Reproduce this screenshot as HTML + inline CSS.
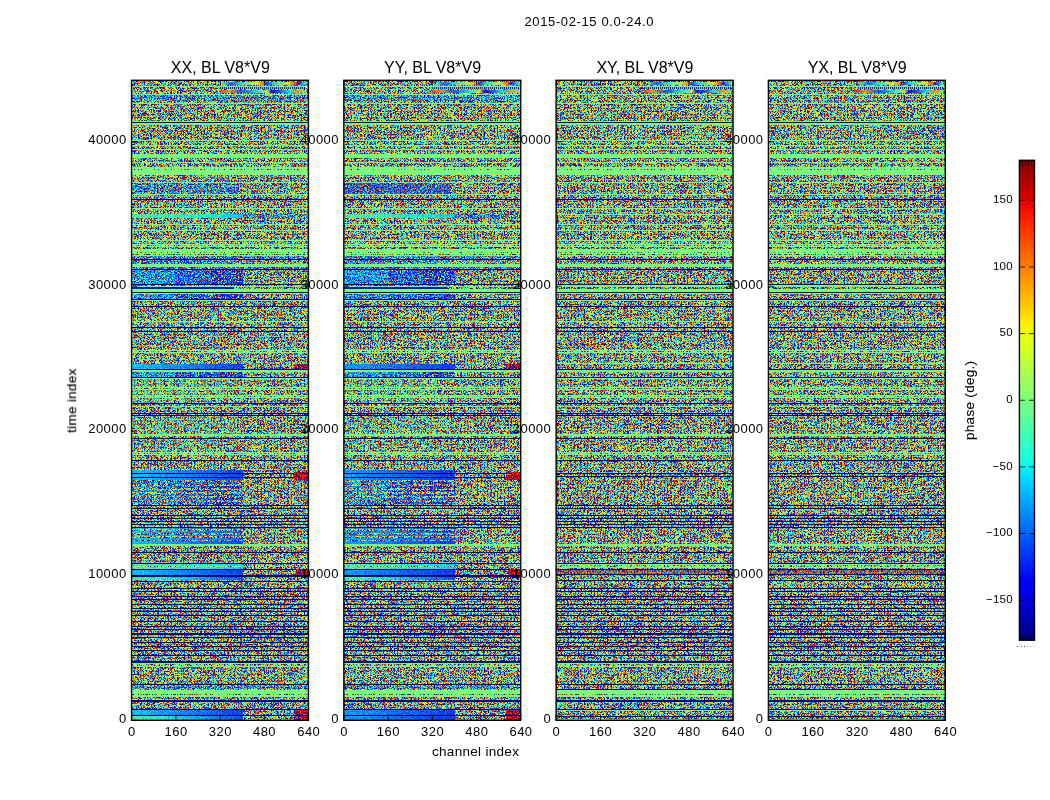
<!DOCTYPE html><html><head><meta charset="utf-8"><title>phase</title><style>html,body{margin:0;padding:0;background:#fff;}body{width:1050px;height:800px;overflow:hidden;position:relative;font-family:"Liberation Sans",sans-serif;}svg{position:absolute;left:0;top:0;}text{font-family:"Liberation Sans",sans-serif;fill:#000;}.tk{font-size:13px;letter-spacing:0.45px;}.tt{font-size:16px;}.al{font-size:13.5px;letter-spacing:0.3px;}.ck{font-size:11.5px;letter-spacing:0.3px;}</style></head><body>
<svg width="1050" height="800" viewBox="0 0 1050 800">
<defs>
<filter id="fn" x="0" y="0" width="100%" height="100%" color-interpolation-filters="sRGB"><feTurbulence type="fractalNoise" baseFrequency="0.7" numOctaves="1" seed="3"/><feColorMatrix type="matrix" values="1 0 0 0 0 1 0 0 0 0 1 0 0 0 0 0 0 0 0 1"/><feComponentTransfer><feFuncR type="table" tableValues="0 0 0 0 0 0 0 0 0 0 0 0 0 0 0 0 0 0 0 0 0 0 0 0 0 0 0 0 0 0 0 0 0 0 0 0 0 0 0 0 0 0 0 0 0 0 0 0 0 0 0 0 0 0 0 0 0 0 0.0142 0.0988 0.183 0.266 0.347 0.422 0.484 0.546 0.621 0.701 0.785 0.869 0.954 1 1 1 1 1 1 1 1 1 1 1 0.974 0.915 0.862 0.814 0.771 0.733 0.699 0.669 0.643 0.621 0.601 0.584 0.57 0.558 0.548 0.539 0.532 0.526 0.521 0.517 0.513 0.51 0.508 0.506 0.505 0.504 0.503 0.502 0.502 0.501 0.501 0.501 0.501 0.5 0.5 0.5 0.5 0.5 0.5 0.5 0.5 0.5 0.5 0.5 0.5 0.5 0.5"/><feFuncG type="table" tableValues="0 0 0 0 0 0 0 0 0 0 0 0 0 0 0 0 0 0 0 0 0 0 0 0 0 0 0 0 0 0 0 0 0 0 0 0 0 0 0 0 0 0 0 0 0 0 0 0 0.0364 0.104 0.176 0.254 0.337 0.425 0.517 0.613 0.712 0.814 0.918 1 1 1 1 1 1 1 1 1 1 1 0.979 0.883 0.789 0.697 0.608 0.523 0.442 0.365 0.293 0.226 0.163 0.106 0.0531 0.00507 0 0 0 0 0 0 0 0 0 0 0 0 0 0 0 0 0 0 0 0 0 0 0 0 0 0 0 0 0 0 0 0 0 0 0 0 0 0 0 0 0 0 0 0 0"/><feFuncB type="table" tableValues="0.5 0.5 0.5 0.5 0.5 0.5 0.5 0.5 0.5 0.5 0.5 0.5 0.5 0.5 0.501 0.501 0.501 0.501 0.502 0.502 0.503 0.504 0.505 0.506 0.508 0.51 0.513 0.517 0.521 0.526 0.532 0.539 0.548 0.558 0.57 0.584 0.601 0.621 0.643 0.669 0.699 0.733 0.771 0.814 0.862 0.915 0.974 1 1 1 1 1 1 1 1 1 1 1 0.954 0.869 0.785 0.701 0.621 0.546 0.484 0.422 0.347 0.266 0.183 0.0988 0.0142 0 0 0 0 0 0 0 0 0 0 0 0 0 0 0 0 0 0 0 0 0 0 0 0 0 0 0 0 0 0 0 0 0 0 0 0 0 0 0 0 0 0 0 0 0 0 0 0 0 0 0 0 0 0 0 0 0 0"/></feComponentTransfer></filter>
<filter id="fgn" x="0" y="0" width="100%" height="100%" color-interpolation-filters="sRGB"><feTurbulence type="fractalNoise" baseFrequency="0.7" numOctaves="1" seed="5"/><feColorMatrix type="matrix" values="1 0 0 0 0 1 0 0 0 0 1 0 0 0 0 0 0 0 0 1"/><feComponentTransfer><feFuncR type="table" tableValues="0 0 0 0 0 0 0 0 0 0 0 0 0 0 0 0 0 0 0 0 0 0 0 0 0 0 0 0 0 0 0 0 0 0 0 0 0 0 0 0 0 0 0 0 0 0 0 0 0 0 0 0 0 0.0667 0.421 0.426 0.432 0.438 0.444 0.45 0.457 0.463 0.47 0.477 0.484 0.491 0.498 0.504 0.511 0.518 0.524 0.53 0.536 0.542 0.547 0.901 1 1 1 1 1 1 1 1 1 0.99 0.922 0.862 0.809 0.763 0.722 0.687 0.657 0.631 0.609 0.59 0.574 0.56 0.549 0.54 0.532 0.526 0.52 0.516 0.513 0.51 0.508 0.506 0.505 0.504 0.503 0.502 0.502 0.501 0.501 0.501 0.501 0.5 0.5 0.5 0.5 0.5 0.5 0.5 0.5 0.5 0.5 0.5 0.5"/><feFuncG type="table" tableValues="0 0 0 0 0 0 0 0 0 0 0 0 0 0 0 0 0 0 0 0 0 0 0 0 0 0 0 0 0 0 0 0 0 0 0 0 0 0 0 0 0 0 0 0 0 0.0722 0.155 0.246 0.345 0.454 0.572 0.7 0.837 0.983 1 1 1 1 1 1 1 1 1 1 1 1 1 1 1 1 1 1 1 1 1 1 0.904 0.778 0.66 0.55 0.449 0.357 0.273 0.197 0.128 0.0659 0.0108 0 0 0 0 0 0 0 0 0 0 0 0 0 0 0 0 0 0 0 0 0 0 0 0 0 0 0 0 0 0 0 0 0 0 0 0 0 0 0 0 0 0"/><feFuncB type="table" tableValues="0.5 0.5 0.5 0.5 0.5 0.5 0.5 0.5 0.5 0.5 0.5 0.5 0.501 0.501 0.501 0.501 0.502 0.502 0.503 0.504 0.505 0.506 0.508 0.51 0.513 0.516 0.52 0.526 0.532 0.54 0.549 0.56 0.574 0.59 0.609 0.631 0.657 0.687 0.722 0.763 0.809 0.862 0.922 0.99 1 1 1 1 1 1 1 1 1 0.901 0.547 0.542 0.536 0.53 0.524 0.518 0.511 0.504 0.498 0.491 0.484 0.477 0.47 0.463 0.457 0.45 0.444 0.438 0.432 0.426 0.421 0.0667 0 0 0 0 0 0 0 0 0 0 0 0 0 0 0 0 0 0 0 0 0 0 0 0 0 0 0 0 0 0 0 0 0 0 0 0 0 0 0 0 0 0 0 0 0 0 0 0 0 0 0 0 0"/></feComponentTransfer></filter>
<filter id="fgN" x="0" y="0" width="100%" height="100%" color-interpolation-filters="sRGB"><feTurbulence type="fractalNoise" baseFrequency="0.7" numOctaves="1" seed="7"/><feColorMatrix type="matrix" values="1 0 0 0 0 1 0 0 0 0 1 0 0 0 0 0 0 0 0 1"/><feComponentTransfer><feFuncR type="table" tableValues="0 0 0 0 0 0 0 0 0 0 0 0 0 0 0 0 0 0 0 0 0 0 0 0 0 0 0 0 0 0 0 0 0 0 0 0 0 0 0 0 0 0 0 0 0 0 0 0 0 0 0 0 0 0 0 0 0 0.0371 0.138 0.399 0.416 0.432 0.449 0.467 0.484 0.501 0.518 0.535 0.552 0.568 0.83 0.931 1 1 1 1 1 1 1 1 1 1 1 0.937 0.88 0.829 0.784 0.743 0.708 0.677 0.649 0.626 0.605 0.588 0.573 0.56 0.549 0.54 0.533 0.527 0.521 0.517 0.514 0.511 0.509 0.507 0.505 0.504 0.503 0.502 0.502 0.501 0.501 0.501 0.501 0.5 0.5 0.5 0.5 0.5 0.5 0.5 0.5 0.5 0.5 0.5 0.5 0.5 0.5"/><feFuncG type="table" tableValues="0 0 0 0 0 0 0 0 0 0 0 0 0 0 0 0 0 0 0 0 0 0 0 0 0 0 0 0 0 0 0 0 0 0 0 0 0 0 0 0 0 0 0 0 0 0 0 0.00082 0.0678 0.141 0.22 0.306 0.398 0.496 0.6 0.71 0.825 0.946 1 1 1 1 1 1 1 1 1 1 1 1 1 1 0.894 0.787 0.685 0.589 0.498 0.413 0.334 0.26 0.192 0.13 0.0738 0.0225 0 0 0 0 0 0 0 0 0 0 0 0 0 0 0 0 0 0 0 0 0 0 0 0 0 0 0 0 0 0 0 0 0 0 0 0 0 0 0 0 0 0 0 0 0"/><feFuncB type="table" tableValues="0.5 0.5 0.5 0.5 0.5 0.5 0.5 0.5 0.5 0.5 0.5 0.5 0.5 0.5 0.501 0.501 0.501 0.501 0.502 0.502 0.503 0.504 0.505 0.507 0.509 0.511 0.514 0.517 0.521 0.527 0.533 0.54 0.549 0.56 0.573 0.588 0.605 0.626 0.649 0.677 0.708 0.743 0.784 0.829 0.88 0.937 1 1 1 1 1 1 1 1 1 1 1 0.931 0.83 0.568 0.552 0.535 0.518 0.501 0.484 0.467 0.449 0.432 0.416 0.399 0.138 0.0371 0 0 0 0 0 0 0 0 0 0 0 0 0 0 0 0 0 0 0 0 0 0 0 0 0 0 0 0 0 0 0 0 0 0 0 0 0 0 0 0 0 0 0 0 0 0 0 0 0 0 0 0 0 0 0 0 0"/></feComponentTransfer></filter>
<filter id="fb1" x="0" y="0" width="100%" height="100%" color-interpolation-filters="sRGB"><feTurbulence type="fractalNoise" baseFrequency="0.7" numOctaves="1" seed="31"/><feColorMatrix type="matrix" values="1 0 0 0 0 1 0 0 0 0 1 0 0 0 0 0 0 0 0 1"/><feComponentTransfer><feFuncR type="table" tableValues="0 0 0 0 0 0 0 0 0 0 0 0 0 0 0 0 0 0 0 0 0 0 0 0 0 0 0 0 0 0 0 0 0 0 0 0 0 0 0 0 0 0 0 0 0 0 0 0 0 0 0 0 0 0 0 0 0 0 0 0 0 0 0 0 0 0 0 0 0 0 0 0 0 0 0 0 0 0 0 0 0 0 0 0 0 0 0 0 0 0 0.00692 0.0152 0.0236 0.0319 0.0402 0.0486 0.0569 0.0652 0.0736 0.0819 0.0902 0.0986 0.107 0.115 0.124 0.132 0.14 0.149 0.157 0.165 0.174 0.182 0.19 0.199 0.207 0.21 0.21 0.21 0.21 0.21 0.21 0.21 0.21 0.21 0.21 0.21 0.21 0.21 0.21"/><feFuncG type="table" tableValues="0.119 0.119 0.119 0.119 0.119 0.119 0.119 0.119 0.119 0.119 0.119 0.119 0.119 0.119 0.124 0.134 0.144 0.154 0.165 0.175 0.185 0.196 0.206 0.216 0.227 0.237 0.247 0.258 0.268 0.278 0.289 0.299 0.309 0.32 0.33 0.34 0.351 0.361 0.371 0.382 0.392 0.402 0.413 0.423 0.433 0.444 0.454 0.464 0.475 0.485 0.495 0.506 0.516 0.526 0.537 0.547 0.557 0.568 0.578 0.588 0.599 0.609 0.619 0.63 0.64 0.65 0.661 0.671 0.681 0.692 0.702 0.712 0.723 0.733 0.743 0.754 0.764 0.774 0.785 0.795 0.805 0.816 0.826 0.836 0.847 0.857 0.867 0.878 0.888 0.898 0.909 0.919 0.929 0.94 0.95 0.96 0.971 0.981 0.991 1 1 1 1 1 1 1 1 1 1 1 1 1 1 1 1 1 1 1 1 1 1 1 1 1 1 1 1 1 1"/><feFuncB type="table" tableValues="1 1 1 1 1 1 1 1 1 1 1 1 1 1 1 1 1 1 1 1 1 1 1 1 1 1 1 1 1 1 1 1 1 1 1 1 1 1 1 1 1 1 1 1 1 1 1 1 1 1 1 1 1 1 1 1 1 1 1 1 1 1 1 1 1 1 1 1 1 1 1 1 1 1 1 1 1 1 1 1 1 1 1 1 1 1 0.994 0.986 0.977 0.969 0.961 0.952 0.944 0.936 0.928 0.919 0.911 0.903 0.894 0.886 0.878 0.869 0.861 0.853 0.844 0.836 0.828 0.819 0.811 0.803 0.794 0.786 0.778 0.769 0.761 0.758 0.758 0.758 0.758 0.758 0.758 0.758 0.758 0.758 0.758 0.758 0.758 0.758 0.758"/></feComponentTransfer></filter>
<filter id="fb2" x="0" y="0" width="100%" height="100%" color-interpolation-filters="sRGB"><feTurbulence type="fractalNoise" baseFrequency="0.7" numOctaves="1" seed="37"/><feColorMatrix type="matrix" values="1 0 0 0 0 1 0 0 0 0 1 0 0 0 0 0 0 0 0 1"/><feComponentTransfer><feFuncR type="table" tableValues="0 0 0 0 0 0 0 0 0 0 0 0 0 0 0 0 0 0 0 0 0 0 0 0 0 0 0 0 0 0 0 0 0 0 0 0 0 0 0 0 0 0 0 0 0 0 0 0 0 0 0 0 0 0 0 0 0 0 0 0 0 0 0 0 0 0 0 0 0 0 0 0 0 0 0 0 0 0 0 0 0 0 0 0 0 0 0 0 0 0 0 0 0 0 0 0 0 0 0 0 0 0 0 0 0 0 0 0 0 0 0 0 0 0.00497 0.0133 0.0167 0.0167 0.0167 0.0167 0.0167 0.0167 0.0167 0.0167 0.0167 0.0167 0.0167 0.0167 0.0167 0.0167"/><feFuncG type="table" tableValues="0 0 0 0 0 0 0 0 0 0 0 0 0 0 0 0 0 0 0 0 0 0 0 0 0 0 0.00747 0.0178 0.0281 0.0385 0.0488 0.0591 0.0694 0.0798 0.0901 0.1 0.111 0.121 0.131 0.142 0.152 0.162 0.173 0.183 0.193 0.204 0.214 0.224 0.235 0.245 0.255 0.266 0.276 0.286 0.297 0.307 0.317 0.328 0.338 0.348 0.359 0.369 0.379 0.39 0.4 0.41 0.421 0.431 0.441 0.452 0.462 0.472 0.483 0.493 0.503 0.514 0.524 0.534 0.545 0.555 0.565 0.576 0.586 0.596 0.607 0.617 0.627 0.638 0.648 0.658 0.669 0.679 0.689 0.7 0.71 0.72 0.731 0.741 0.751 0.762 0.772 0.782 0.793 0.803 0.813 0.824 0.834 0.844 0.855 0.865 0.875 0.886 0.896 0.906 0.916 0.921 0.921 0.921 0.921 0.921 0.921 0.921 0.921 0.921 0.921 0.921 0.921 0.921 0.921"/><feFuncB type="table" tableValues="0.931 0.931 0.931 0.931 0.931 0.931 0.931 0.931 0.931 0.931 0.931 0.931 0.931 0.931 0.936 0.948 0.959 0.971 0.983 0.994 1 1 1 1 1 1 1 1 1 1 1 1 1 1 1 1 1 1 1 1 1 1 1 1 1 1 1 1 1 1 1 1 1 1 1 1 1 1 1 1 1 1 1 1 1 1 1 1 1 1 1 1 1 1 1 1 1 1 1 1 1 1 1 1 1 1 1 1 1 1 1 1 1 1 1 1 1 1 1 1 1 1 1 1 1 1 1 1 1 0.996 0.988 0.979 0.971 0.963 0.954 0.951 0.951 0.951 0.951 0.951 0.951 0.951 0.951 0.951 0.951 0.951 0.951 0.951 0.951"/></feComponentTransfer></filter>
<filter id="fb3" x="0" y="0" width="100%" height="100%" color-interpolation-filters="sRGB"><feTurbulence type="fractalNoise" baseFrequency="0.7" numOctaves="1" seed="41"/><feColorMatrix type="matrix" values="1 0 0 0 0 1 0 0 0 0 1 0 0 0 0 0 0 0 0 1"/><feComponentTransfer><feFuncR type="table" tableValues="0 0 0 0 0 0 0 0 0 0 0 0 0 0 0 0 0 0 0 0 0 0 0 0 0 0 0 0 0 0 0 0 0 0 0 0 0 0 0 0 0 0 0 0 0 0 0 0 0 0 0 0 0 0 0 0 0 0 0 0 0 0 0 0 0 0 0 0 0 0 0 0 0 0 0 0 0 0 0 0 0 0 0 0 0 0 0 0 0 0 0 0 0 0 0 0 0 0 0 0 0 0 0 0 0 0 0 0 0 0 0 0 0 0 0 0 0 0 0 0 0 0 0 0 0 0 0 0 0"/><feFuncG type="table" tableValues="0 0 0 0 0 0 0 0 0 0 0 0 0 0 0 0 0 0 0 0 0 0 0 0 0 0 0 0 0 0 0 0 0 0 0 0 0 0 0 0 0 0 0 0 0 0 0 0 0 0 0 0 0 0 0 0 0 0 0 0 0 0 0 0 0 0 0 0.00656 0.0154 0.0243 0.0331 0.042 0.0508 0.0597 0.0685 0.0774 0.0862 0.0951 0.104 0.113 0.122 0.131 0.139 0.148 0.157 0.166 0.175 0.184 0.192 0.201 0.21 0.219 0.228 0.237 0.246 0.254 0.263 0.272 0.281 0.29 0.299 0.308 0.316 0.325 0.334 0.343 0.352 0.361 0.37 0.378 0.387 0.396 0.405 0.414 0.423 0.426 0.426 0.426 0.426 0.426 0.426 0.426 0.426 0.426 0.426 0.426 0.426 0.426 0.426"/><feFuncB type="table" tableValues="0.538 0.538 0.538 0.538 0.538 0.538 0.538 0.538 0.538 0.538 0.538 0.538 0.538 0.538 0.542 0.552 0.562 0.573 0.583 0.593 0.603 0.613 0.623 0.633 0.643 0.653 0.663 0.673 0.683 0.693 0.703 0.713 0.723 0.734 0.744 0.754 0.764 0.774 0.784 0.794 0.804 0.814 0.824 0.834 0.844 0.854 0.864 0.874 0.884 0.895 0.905 0.915 0.925 0.935 0.945 0.955 0.965 0.975 0.985 0.995 1 1 1 1 1 1 1 1 1 1 1 1 1 1 1 1 1 1 1 1 1 1 1 1 1 1 1 1 1 1 1 1 1 1 1 1 1 1 1 1 1 1 1 1 1 1 1 1 1 1 1 1 1 1 1 1 1 1 1 1 1 1 1 1 1 1 1 1 1"/></feComponentTransfer></filter>
<filter id="fbn" x="0" y="0" width="100%" height="100%" color-interpolation-filters="sRGB"><feTurbulence type="fractalNoise" baseFrequency="0.7" numOctaves="1" seed="13"/><feColorMatrix type="matrix" values="1 0 0 0 0 1 0 0 0 0 1 0 0 0 0 0 0 0 0 1"/><feComponentTransfer><feFuncR type="table" tableValues="0 0 0 0 0 0 0 0 0 0 0 0 0 0 0 0 0 0 0 0 0 0 0 0 0 0 0 0 0 0 0 0 0 0 0 0 0 0 0 0 0 0 0 0 0 0 0 0 0 0 0 0 0 0 0 0 0 0 0 0 0 0 0 0 0 0 0 0 0 0 0 0 0 0.026 0.0543 0.084 0.115 0.149 0.186 0.227 0.275 0.333 0.411 0.526 0.692 0.875 1 1 1 1 1 1 1 0.96 0.882 0.815 0.759 0.712 0.672 0.639 0.612 0.59 0.572 0.557 0.545 0.535 0.528 0.521 0.517 0.513 0.51 0.507 0.506 0.504 0.503 0.502 0.502 0.501 0.501 0.501 0.501 0.5 0.5 0.5 0.5 0.5 0.5 0.5 0.5"/><feFuncG type="table" tableValues="0 0 0 0 0 0 0 0 0 0 0 0 0 0 0 0 0 0 0 0 0 0 0 0 0 0 0 0 0 0 0 0 0 0 0 0 0 0 0 0 0 0 0.017 0.0489 0.0802 0.111 0.141 0.171 0.2 0.23 0.258 0.287 0.316 0.344 0.372 0.4 0.428 0.456 0.484 0.513 0.541 0.569 0.597 0.626 0.655 0.684 0.713 0.742 0.772 0.803 0.834 0.866 0.898 0.932 0.967 1 1 1 1 1 1 1 1 1 1 1 0.877 0.705 0.553 0.42 0.304 0.203 0.116 0.0414 0 0 0 0 0 0 0 0 0 0 0 0 0 0 0 0 0 0 0 0 0 0 0 0 0 0 0 0 0 0 0 0 0 0 0"/><feFuncB type="table" tableValues="0.5 0.5 0.5 0.5 0.5 0.5 0.5 0.5 0.5 0.501 0.501 0.501 0.502 0.502 0.503 0.504 0.505 0.507 0.509 0.511 0.515 0.519 0.525 0.531 0.54 0.55 0.563 0.578 0.596 0.618 0.643 0.671 0.703 0.738 0.776 0.815 0.855 0.895 0.935 0.974 1 1 1 1 1 1 1 1 1 1 1 1 1 1 1 1 1 1 1 1 1 1 1 1 1 1 1 1 1 1 1 0.995 0.969 0.942 0.913 0.884 0.852 0.819 0.782 0.741 0.693 0.634 0.556 0.442 0.276 0.0929 0 0 0 0 0 0 0 0 0 0 0 0 0 0 0 0 0 0 0 0 0 0 0 0 0 0 0 0 0 0 0 0 0 0 0 0 0 0 0 0 0 0 0"/></feComponentTransfer></filter>
<filter id="fbnA" x="0" y="0" width="100%" height="100%" color-interpolation-filters="sRGB"><feTurbulence type="fractalNoise" baseFrequency="0.7" numOctaves="1" seed="47"/><feColorMatrix type="matrix" values="1 0 0 0 0 1 0 0 0 0 1 0 0 0 0 0 0 0 0 1"/><feComponentTransfer><feFuncR type="table" tableValues="0 0 0 0 0 0 0 0 0 0 0 0 0 0 0 0 0 0 0 0 0 0 0 0 0 0 0 0 0 0 0 0 0 0 0 0 0 0 0 0 0 0 0 0 0 0 0 0 0 0 0 0 0 0 0 0 0 0 0 0 0 0 0 0 0 0 0 0 0 0 0 0 0.0311 0.0643 0.0992 0.136 0.177 0.221 0.271 0.331 0.405 0.503 0.638 0.803 0.968 1 1 1 1 1 1 1 0.941 0.868 0.805 0.752 0.707 0.669 0.638 0.611 0.59 0.572 0.557 0.546 0.536 0.528 0.522 0.517 0.513 0.51 0.508 0.506 0.505 0.503 0.503 0.502 0.501 0.501 0.501 0.501 0.5 0.5 0.5 0.5 0.5 0.5 0.5 0.5 0.5"/><feFuncG type="table" tableValues="0 0 0 0 0 0 0 0 0 0 0 0 0 0 0 0 0 0 0 0 0 0 0 0 0 0 0 0 0 0 0 0 0 0 0 0 0 0 0 0 0 0 0 0 0.00241 0.036 0.0693 0.102 0.135 0.168 0.2 0.232 0.265 0.297 0.329 0.361 0.392 0.424 0.456 0.488 0.521 0.553 0.586 0.618 0.651 0.685 0.719 0.753 0.789 0.824 0.861 0.899 0.939 0.98 1 1 1 1 1 1 1 1 1 1 0.963 0.789 0.635 0.497 0.376 0.269 0.176 0.0958 0.0262 0 0 0 0 0 0 0 0 0 0 0 0 0 0 0 0 0 0 0 0 0 0 0 0 0 0 0 0 0 0 0 0 0 0 0 0"/><feFuncB type="table" tableValues="0.5 0.5 0.5 0.5 0.5 0.5 0.5 0.5 0.5 0.5 0.501 0.501 0.501 0.502 0.502 0.503 0.504 0.505 0.506 0.508 0.511 0.514 0.517 0.522 0.528 0.535 0.544 0.555 0.568 0.583 0.601 0.622 0.646 0.672 0.702 0.733 0.767 0.803 0.84 0.878 0.917 0.955 0.994 1 1 1 1 1 1 1 1 1 1 1 1 1 1 1 1 1 1 1 1 1 1 1 1 1 1 1 0.999 0.968 0.937 0.903 0.869 0.831 0.791 0.747 0.696 0.637 0.563 0.465 0.33 0.165 0 0 0 0 0 0 0 0 0 0 0 0 0 0 0 0 0 0 0 0 0 0 0 0 0 0 0 0 0 0 0 0 0 0 0 0 0 0 0 0 0 0 0 0 0"/></feComponentTransfer></filter>
<filter id="fbnB" x="0" y="0" width="100%" height="100%" color-interpolation-filters="sRGB"><feTurbulence type="fractalNoise" baseFrequency="0.7" numOctaves="1" seed="53"/><feColorMatrix type="matrix" values="1 0 0 0 0 1 0 0 0 0 1 0 0 0 0 0 0 0 0 1"/><feComponentTransfer><feFuncR type="table" tableValues="0 0 0 0 0 0 0 0 0 0 0 0 0 0 0 0 0 0 0 0 0 0 0 0 0 0 0 0 0 0 0 0 0 0 0 0 0 0 0 0 0 0 0 0 0 0 0 0 0 0 0 0 0 0 0 0 0 0 0 0 0 0 0 0 0 0 0 0 0 0 0 0 0 0 0 0.0514 0.112 0.186 0.281 0.409 0.572 0.745 0.909 1 1 1 1 1 1 1 1 0.921 0.853 0.794 0.744 0.702 0.666 0.635 0.61 0.589 0.572 0.558 0.546 0.536 0.529 0.523 0.518 0.514 0.511 0.508 0.506 0.505 0.504 0.503 0.502 0.502 0.501 0.501 0.501 0.5 0.5 0.5 0.5 0.5 0.5 0.5 0.5 0.5 0.5"/><feFuncG type="table" tableValues="0 0 0 0 0 0 0 0 0 0 0 0 0 0 0 0 0 0 0 0 0 0 0 0 0 0 0 0 0 0 0 0 0 0 0 0 0 0 0 0 0 0 0 0 0 0 0 0 0 0 0 0.016 0.0478 0.0798 0.112 0.145 0.178 0.211 0.245 0.278 0.313 0.347 0.383 0.418 0.455 0.492 0.53 0.569 0.609 0.651 0.694 0.74 0.789 0.841 0.899 0.964 1 1 1 1 1 1 1 0.859 0.704 0.565 0.441 0.331 0.234 0.149 0.0745 0.01 0 0 0 0 0 0 0 0 0 0 0 0 0 0 0 0 0 0 0 0 0 0 0 0 0 0 0 0 0 0 0 0 0 0 0 0 0"/><feFuncB type="table" tableValues="0.5 0.5 0.5 0.5 0.5 0.5 0.5 0.5 0.5 0.5 0.5 0.5 0.501 0.501 0.501 0.501 0.502 0.502 0.503 0.504 0.505 0.506 0.508 0.51 0.513 0.516 0.52 0.525 0.531 0.538 0.547 0.557 0.569 0.582 0.597 0.614 0.633 0.654 0.677 0.702 0.728 0.756 0.785 0.815 0.847 0.879 0.912 0.946 0.98 1 1 1 1 1 1 1 1 1 1 1 1 1 1 1 1 1 1 1 1 1 1 1 1 1 0.969 0.916 0.856 0.782 0.687 0.559 0.396 0.223 0.0588 0 0 0 0 0 0 0 0 0 0 0 0 0 0 0 0 0 0 0 0 0 0 0 0 0 0 0 0 0 0 0 0 0 0 0 0 0 0 0 0 0 0 0 0 0 0"/></feComponentTransfer></filter>
<filter id="fbnC" x="0" y="0" width="100%" height="100%" color-interpolation-filters="sRGB"><feTurbulence type="fractalNoise" baseFrequency="0.7" numOctaves="1" seed="59"/><feColorMatrix type="matrix" values="1 0 0 0 0 1 0 0 0 0 1 0 0 0 0 0 0 0 0 1"/><feComponentTransfer><feFuncR type="table" tableValues="0 0 0 0 0 0 0 0 0 0 0 0 0 0 0 0 0 0 0 0 0 0 0 0 0 0 0 0 0 0 0 0 0 0 0 0 0 0 0 0 0 0 0 0 0 0 0 0 0 0 0 0 0 0 0 0 0 0 0 0 0 0 0 0 0 0 0 0 0 0 0 0 0 0 0.0639 0.203 0.37 0.542 0.707 0.86 1 1 1 1 1 1 1 1 0.997 0.923 0.858 0.801 0.752 0.71 0.674 0.644 0.618 0.597 0.579 0.564 0.551 0.541 0.533 0.526 0.521 0.516 0.513 0.51 0.508 0.506 0.504 0.503 0.503 0.502 0.501 0.501 0.501 0.501 0.5 0.5 0.5 0.5 0.5 0.5 0.5 0.5 0.5 0.5 0.5"/><feFuncG type="table" tableValues="0 0 0 0 0 0 0 0 0 0 0 0 0 0 0 0 0 0 0 0 0 0 0 0 0 0 0 0 0 0 0 0 0 0 0 0 0 0 0 0 0 0 0 0 0 0 0 0 0 0 0 0 0 0 0 0 0.00101 0.0339 0.0677 0.102 0.138 0.175 0.213 0.252 0.293 0.335 0.38 0.428 0.479 0.534 0.596 0.666 0.748 0.849 0.979 1 1 1 1 1 0.925 0.776 0.641 0.518 0.408 0.308 0.22 0.141 0.0719 0.0111 0 0 0 0 0 0 0 0 0 0 0 0 0 0 0 0 0 0 0 0 0 0 0 0 0 0 0 0 0 0 0 0 0 0 0 0 0 0 0"/><feFuncB type="table" tableValues="0.5 0.5 0.5 0.5 0.5 0.5 0.5 0.5 0.5 0.5 0.5 0.5 0.5 0.5 0.5 0.501 0.501 0.501 0.501 0.502 0.502 0.503 0.504 0.504 0.506 0.507 0.509 0.511 0.514 0.517 0.521 0.526 0.532 0.538 0.546 0.555 0.565 0.577 0.59 0.604 0.621 0.638 0.658 0.679 0.701 0.725 0.75 0.777 0.805 0.835 0.865 0.897 0.929 0.963 0.997 1 1 1 1 1 1 1 1 1 1 1 1 1 1 1 1 1 1 1 0.904 0.765 0.598 0.425 0.261 0.108 0 0 0 0 0 0 0 0 0 0 0 0 0 0 0 0 0 0 0 0 0 0 0 0 0 0 0 0 0 0 0 0 0 0 0 0 0 0 0 0 0 0 0 0 0 0 0 0 0"/></feComponentTransfer></filter>
<filter id="fbw" x="0" y="0" width="100%" height="100%" color-interpolation-filters="sRGB"><feTurbulence type="fractalNoise" baseFrequency="0.7" numOctaves="1" seed="43"/><feColorMatrix type="matrix" values="1 0 0 0 0 1 0 0 0 0 1 0 0 0 0 0 0 0 0 1"/><feComponentTransfer><feFuncR type="table" tableValues="0 0 0 0 0 0 0 0 0 0 0 0 0 0 0 0 0 0 0 0 0 0 0 0 0 0 0 0 0 0 0 0 0 0 0 0 0 0 0 0 0 0 0 0 0 0 0 0 0 0 0 0 0 0 0 0 0 0 0 0 0 0 0 0 0 0 0 0.00896 0.0629 0.123 0.192 0.274 0.372 0.488 0.619 0.754 0.885 1 1 1 1 1 1 1 1 1 0.975 0.908 0.848 0.796 0.75 0.711 0.677 0.647 0.622 0.601 0.583 0.568 0.555 0.545 0.536 0.529 0.523 0.518 0.514 0.511 0.509 0.507 0.505 0.504 0.503 0.502 0.502 0.501 0.501 0.501 0.501 0.5 0.5 0.5 0.5 0.5 0.5 0.5 0.5 0.5 0.5 0.5 0.5"/><feFuncG type="table" tableValues="0 0 0 0 0 0 0 0 0 0 0 0 0 0 0 0 0 0 0 0 0 0 0 0 0 0 0 0 0 0 0 0 0 0 0 0 0 0 0 0 0 0 0 0 0 0 0 0.000733 0.0419 0.0831 0.125 0.166 0.207 0.249 0.291 0.332 0.374 0.417 0.46 0.504 0.548 0.594 0.641 0.689 0.74 0.793 0.85 0.911 0.978 1 1 1 1 1 1 1 1 0.916 0.784 0.661 0.547 0.443 0.349 0.263 0.185 0.116 0.0538 0 0 0 0 0 0 0 0 0 0 0 0 0 0 0 0 0 0 0 0 0 0 0 0 0 0 0 0 0 0 0 0 0 0 0 0 0 0 0 0 0 0"/><feFuncB type="table" tableValues="0.5 0.5 0.5 0.5 0.5 0.5 0.5 0.5 0.5 0.5 0.5 0.5 0.5 0.501 0.501 0.501 0.502 0.502 0.503 0.504 0.505 0.506 0.508 0.51 0.513 0.516 0.52 0.525 0.531 0.539 0.548 0.558 0.571 0.586 0.603 0.623 0.646 0.672 0.701 0.733 0.768 0.806 0.846 0.888 0.932 0.977 1 1 1 1 1 1 1 1 1 1 1 1 1 1 1 1 1 1 1 1 1 0.959 0.905 0.845 0.775 0.694 0.596 0.48 0.349 0.214 0.0832 0 0 0 0 0 0 0 0 0 0 0 0 0 0 0 0 0 0 0 0 0 0 0 0 0 0 0 0 0 0 0 0 0 0 0 0 0 0 0 0 0 0 0 0 0 0 0 0 0 0 0 0"/></feComponentTransfer></filter>
<filter id="fc" x="0" y="0" width="100%" height="100%" color-interpolation-filters="sRGB"><feTurbulence type="fractalNoise" baseFrequency="0.7" numOctaves="1" seed="17"/><feColorMatrix type="matrix" values="1 0 0 0 0 1 0 0 0 0 1 0 0 0 0 0 0 0 0 1"/><feComponentTransfer><feFuncR type="table" tableValues="0 0 0 0 0 0 0 0 0 0 0 0 0 0 0 0 0 0 0 0 0 0 0 0 0 0 0 0 0 0 0 0 0 0 0 0 0 0 0 0 0 0 0 0 0 0 0 0 0 0 0 0 0 0 0 0 0 0 0 0 0 0 0 0 0 0 0 0 0 0.00689 0.0212 0.0355 0.0497 0.064 0.0783 0.0926 0.107 0.121 0.135 0.15 0.164 0.178 0.193 0.207 0.221 0.235 0.25 0.264 0.278 0.293 0.307 0.321 0.335 0.35 0.364 0.378 0.392 0.407 0.421 0.435 0.45 0.464 0.478 0.492 0.507 0.521 0.535 0.55 0.564 0.578 0.592 0.607 0.621 0.635 0.65 0.655 0.655 0.655 0.655 0.655 0.655 0.655 0.655 0.655 0.655 0.655 0.655 0.655 0.655"/><feFuncG type="table" tableValues="0 0 0 0 0 0 0 0 0 0 0 0 0 0 0 0 0 0 0.00542 0.0231 0.0408 0.0585 0.0762 0.094 0.112 0.129 0.147 0.165 0.182 0.2 0.218 0.236 0.253 0.271 0.289 0.306 0.324 0.342 0.36 0.377 0.395 0.413 0.43 0.448 0.466 0.484 0.501 0.519 0.537 0.554 0.572 0.59 0.607 0.625 0.643 0.661 0.678 0.696 0.714 0.731 0.749 0.767 0.785 0.802 0.82 0.838 0.855 0.873 0.891 0.909 0.926 0.944 0.962 0.979 0.997 1 1 1 1 1 1 1 1 1 1 1 1 1 1 1 1 1 1 1 1 1 1 1 1 1 1 1 1 1 1 1 1 1 1 1 1 1 1 1 1 1 1 1 1 1 1 1 1 1 1 1 1 1 1"/><feFuncB type="table" tableValues="0.986 0.986 0.986 0.986 0.986 0.986 0.986 0.986 0.986 0.986 0.986 0.986 0.986 0.986 0.994 1 1 1 1 1 1 1 1 1 1 1 1 1 1 1 1 1 1 1 1 1 1 1 1 1 1 1 1 1 1 1 1 1 1 1 1 1 1 1 1 1 1 1 1 1 1 1 1 1 1 1 1 0.989 0.975 0.961 0.947 0.932 0.918 0.904 0.889 0.875 0.861 0.847 0.832 0.818 0.804 0.789 0.775 0.761 0.747 0.732 0.718 0.704 0.69 0.675 0.661 0.647 0.632 0.618 0.604 0.59 0.575 0.561 0.547 0.532 0.518 0.504 0.49 0.475 0.461 0.447 0.432 0.418 0.404 0.39 0.375 0.361 0.347 0.332 0.318 0.312 0.312 0.312 0.312 0.312 0.312 0.312 0.312 0.312 0.312 0.312 0.312 0.312 0.312"/></feComponentTransfer></filter>
<filter id="fcn" x="0" y="0" width="100%" height="100%" color-interpolation-filters="sRGB"><feTurbulence type="fractalNoise" baseFrequency="0.7" numOctaves="1" seed="19"/><feColorMatrix type="matrix" values="1 0 0 0 0 1 0 0 0 0 1 0 0 0 0 0 0 0 0 1"/><feComponentTransfer><feFuncR type="table" tableValues="0.762 0.762 0.762 0.762 0.762 0.762 0.762 0.762 0.762 0.762 0.762 0.762 0.762 0.762 0.781 0.829 0.876 0.924 0.972 1 1 1 1 1 1 1 1 1 1 1 1 1 1 1 1 0.945 0.878 0.811 0.744 0.677 0.61 0.543 0 0 0 0 0 0 0 0 0 0 0 0 0 0 0 0 0 0 0 0 0 0 0 0 0.0307 0.0783 0.126 0.173 0.221 0.269 0.316 0.364 0.412 0.459 0.507 0.554 0.602 0.65 0.697 0.745 0.792 0.84 0.888 0.935 0.983 1 1 1 1 1 1 1 1 1 1 1 1 1 1 1 0.997 0.929 0.862 0.795 0.728 0.661 0.594 0.527 0 0 0 0 0 0 0 0 0 0 0 0 0 0 0 0 0 0 0"/><feFuncG type="table" tableValues="1 1 1 1 1 1 1 1 1 1 1 1 1 1 1 1 1 1 0.959 0.904 0.849 0.795 0.74 0.685 0.631 0.576 0.521 0.467 0.412 0.357 0.303 0.248 0.193 0.139 0.0841 0.0294 0 0 0 0 0 0 0 0 0 0 0 0 0 0 0 0.0526 0.112 0.171 0.23 0.289 0.348 0.407 0.466 0.525 0.584 0.643 0.702 0.761 0.82 0.879 0.938 0.997 1 1 1 1 1 1 1 1 1 1 1 1 1 1 1 1 1 1 0.946 0.891 0.836 0.782 0.727 0.672 0.618 0.563 0.508 0.454 0.399 0.345 0.29 0.235 0.181 0.126 0.0712 0.0166 0 0 0 0 0 0 0 0 0 0 0 0 0 0 0 0 0 0 0 0 0 0 0 0 0"/><feFuncB type="table" tableValues="0.206 0.206 0.206 0.206 0.206 0.206 0.206 0.206 0.206 0.206 0.206 0.206 0.206 0.206 0.187 0.139 0.0914 0.0438 0 0 0 0 0 0 0 0 0 0 0 0 0 0 0 0 0 0 0 0 0 0 0 0 0.524 0.591 0.658 0.726 0.793 0.86 0.927 0.994 1 1 1 1 1 1 1 1 1 1 1 1 1 1 1 0.985 0.937 0.889 0.842 0.794 0.747 0.699 0.651 0.604 0.556 0.509 0.461 0.413 0.366 0.318 0.271 0.223 0.175 0.128 0.0802 0.0326 0 0 0 0 0 0 0 0 0 0 0 0 0 0 0 0 0 0 0 0 0 0 0 0 0.54 0.607 0.674 0.741 0.808 0.835 0.835 0.835 0.835 0.835 0.835 0.835 0.835 0.835 0.835 0.835 0.835 0.835 0.835"/></feComponentTransfer></filter>
<filter id="fdb" x="0" y="0" width="100%" height="100%" color-interpolation-filters="sRGB"><feTurbulence type="fractalNoise" baseFrequency="0.7" numOctaves="1" seed="23"/><feColorMatrix type="matrix" values="1 0 0 0 0 1 0 0 0 0 1 0 0 0 0 0 0 0 0 1"/><feComponentTransfer><feFuncR type="table" tableValues="1 1 1 1 1 1 1 1 1 1 1 1 1 1 1 1 1 1 1 1 1 1 1 1 1 1 1 0.984 0.967 0.951 0.934 0.917 0.9 0.883 0.867 0.85 0.833 0.816 0.8 0.783 0.766 0.749 0.733 0.716 0.699 0.682 0.665 0.649 0.632 0.615 0.598 0.582 0.565 0.548 0.531 0.515 0 0 0 0 0 0 0 0 0 0 0 0 0 0 0 0 0 0 0 0 0 0 0 0 0 0 0 0 0 0 0 0 0 0 0 0 0 0 0 0 0 0 0 0 0 0 0 0 0 0 0 0 0 0 0 0 0 0 0 0 0 0 0 0 0 0 0 0 0 0 0 0 0"/><feFuncG type="table" tableValues="0.244 0.244 0.244 0.244 0.244 0.244 0.244 0.244 0.244 0.244 0.244 0.244 0.244 0.244 0.239 0.225 0.211 0.198 0.184 0.17 0.157 0.143 0.129 0.116 0.102 0.0884 0.0748 0.0611 0.0475 0.0338 0.0201 0.00646 0 0 0 0 0 0 0 0 0 0 0 0 0 0 0 0 0 0 0 0 0 0 0 0 0 0 0 0 0 0 0 0 0 0 0 0 0 0 0 0 0 0 0 0 0 0 0 0 0 0 0 0 0 0 0 0 0 0 0.00368 0.0184 0.0332 0.048 0.0627 0.0775 0.0922 0.107 0.122 0.136 0.151 0.166 0.181 0.196 0.21 0.225 0.24 0.255 0.269 0.284 0.299 0.314 0.328 0.343 0.358 0.364 0.364 0.364 0.364 0.364 0.364 0.364 0.364 0.364 0.364 0.364 0.364 0.364 0.364"/><feFuncB type="table" tableValues="0 0 0 0 0 0 0 0 0 0 0 0 0 0 0 0 0 0 0 0 0 0 0 0 0 0 0 0 0 0 0 0 0 0 0 0 0 0 0 0 0 0 0 0 0 0 0 0 0 0 0 0 0 0 0 0 0.502 0.519 0.536 0.553 0.569 0.586 0.603 0.62 0.636 0.653 0.67 0.687 0.703 0.72 0.737 0.754 0.771 0.787 0.804 0.821 0.838 0.854 0.871 0.888 0.905 0.921 0.938 0.955 0.972 0.989 1 1 1 1 1 1 1 1 1 1 1 1 1 1 1 1 1 1 1 1 1 1 1 1 1 1 1 1 1 1 1 1 1 1 1 1 1 1 1 1 1 1 1"/></feComponentTransfer></filter>
<filter id="frn" x="0" y="0" width="100%" height="100%" color-interpolation-filters="sRGB"><feTurbulence type="fractalNoise" baseFrequency="0.7" numOctaves="1" seed="29"/><feColorMatrix type="matrix" values="1 0 0 0 0 1 0 0 0 0 1 0 0 0 0 0 0 0 0 1"/><feComponentTransfer><feFuncR type="table" tableValues="0.976 0.976 0.976 0.976 0.976 0.976 0.976 0.976 0.976 0.976 0.976 0.976 0.976 0.976 0.983 1 1 1 1 1 1 1 1 1 1 1 1 1 1 1 1 1 1 1 1 1 1 1 1 1 1 1 1 1 1 1 1 1 1 1 1 1 1 1 0.996 0.969 0.942 0.915 0.888 0.861 0.835 0.808 0.781 0.754 0.727 0.7 0.674 0.647 0.62 0.593 0.566 0.539 0.513 0 0 0 0 0 0 0 0 0 0 0 0 0 0 0 0 0 0 0 0 0 0 0 0 0 0 0 0 0 0 0 0 0 0 0 0 0 0 0 0 0 0 0 0 0 0 0 0 0 0 0 0 0 0 0 0"/><feFuncG type="table" tableValues="0.954 0.954 0.954 0.954 0.954 0.954 0.954 0.954 0.954 0.954 0.954 0.954 0.954 0.954 0.945 0.923 0.901 0.879 0.858 0.836 0.814 0.792 0.77 0.748 0.726 0.704 0.683 0.661 0.639 0.617 0.595 0.573 0.551 0.53 0.508 0.486 0.464 0.442 0.42 0.398 0.377 0.355 0.333 0.311 0.289 0.267 0.245 0.224 0.202 0.18 0.158 0.136 0.114 0.0923 0.0705 0.0486 0.0267 0.00489 0 0 0 0 0 0 0 0 0 0 0 0 0 0 0 0 0 0 0 0 0 0 0 0 0 0 0 0 0 0 0 0 0 0 0 0 0.00833 0.0319 0.0556 0.0792 0.103 0.126 0.15 0.174 0.197 0.221 0.244 0.268 0.292 0.315 0.339 0.362 0.386 0.41 0.433 0.457 0.481 0.49 0.49 0.49 0.49 0.49 0.49 0.49 0.49 0.49 0.49 0.49 0.49 0.49 0.49"/><feFuncB type="table" tableValues="0 0 0 0 0 0 0 0 0 0 0 0 0 0 0 0 0 0 0 0 0 0 0 0 0 0 0 0 0 0 0 0 0 0 0 0 0 0 0 0 0 0 0 0 0 0 0 0 0 0 0 0 0 0 0 0 0 0 0 0 0 0 0 0 0 0 0 0 0 0 0 0 0 0.514 0.541 0.568 0.595 0.622 0.648 0.675 0.702 0.729 0.756 0.783 0.809 0.836 0.863 0.89 0.917 0.943 0.97 0.997 1 1 1 1 1 1 1 1 1 1 1 1 1 1 1 1 1 1 1 1 1 1 1 1 1 1 1 1 1 1 1 1 1 1 1 1 1"/></feComponentTransfer></filter>
<filter id="gray" x="0" y="0" width="100%" height="100%" filterUnits="objectBoundingBox"><feColorMatrix type="saturate" values="0"/></filter>
<linearGradient id="cb" x1="0" y1="1" x2="0" y2="0">
<stop offset="0.0000" stop-color="#000080"/>
<stop offset="0.0156" stop-color="#000092"/>
<stop offset="0.0312" stop-color="#0000a4"/>
<stop offset="0.0469" stop-color="#0000b6"/>
<stop offset="0.0625" stop-color="#0000c8"/>
<stop offset="0.0781" stop-color="#0000da"/>
<stop offset="0.0938" stop-color="#0000ec"/>
<stop offset="0.1094" stop-color="#0000fe"/>
<stop offset="0.1250" stop-color="#0000ff"/>
<stop offset="0.1406" stop-color="#0010ff"/>
<stop offset="0.1562" stop-color="#0020ff"/>
<stop offset="0.1719" stop-color="#0030ff"/>
<stop offset="0.1875" stop-color="#0040ff"/>
<stop offset="0.2031" stop-color="#0050ff"/>
<stop offset="0.2188" stop-color="#0060ff"/>
<stop offset="0.2344" stop-color="#0070ff"/>
<stop offset="0.2500" stop-color="#0080ff"/>
<stop offset="0.2656" stop-color="#008fff"/>
<stop offset="0.2812" stop-color="#009fff"/>
<stop offset="0.2969" stop-color="#00afff"/>
<stop offset="0.3125" stop-color="#00bfff"/>
<stop offset="0.3281" stop-color="#00cfff"/>
<stop offset="0.3438" stop-color="#00dffc"/>
<stop offset="0.3594" stop-color="#08efef"/>
<stop offset="0.3750" stop-color="#15ffe2"/>
<stop offset="0.3906" stop-color="#21ffd5"/>
<stop offset="0.4062" stop-color="#2effc9"/>
<stop offset="0.4219" stop-color="#3bffbc"/>
<stop offset="0.4375" stop-color="#48ffaf"/>
<stop offset="0.4531" stop-color="#55ffa2"/>
<stop offset="0.4688" stop-color="#62ff95"/>
<stop offset="0.4844" stop-color="#6fff88"/>
<stop offset="0.5000" stop-color="#7bff7b"/>
<stop offset="0.5156" stop-color="#88ff6f"/>
<stop offset="0.5312" stop-color="#95ff62"/>
<stop offset="0.5469" stop-color="#a2ff55"/>
<stop offset="0.5625" stop-color="#afff48"/>
<stop offset="0.5781" stop-color="#bcff3b"/>
<stop offset="0.5938" stop-color="#c9ff2e"/>
<stop offset="0.6094" stop-color="#d5ff21"/>
<stop offset="0.6250" stop-color="#e2ff15"/>
<stop offset="0.6406" stop-color="#effe08"/>
<stop offset="0.6562" stop-color="#fcf000"/>
<stop offset="0.6719" stop-color="#ffe100"/>
<stop offset="0.6875" stop-color="#ffd200"/>
<stop offset="0.7031" stop-color="#ffc300"/>
<stop offset="0.7188" stop-color="#ffb500"/>
<stop offset="0.7344" stop-color="#ffa600"/>
<stop offset="0.7500" stop-color="#ff9700"/>
<stop offset="0.7656" stop-color="#ff8800"/>
<stop offset="0.7812" stop-color="#ff7a00"/>
<stop offset="0.7969" stop-color="#ff6b00"/>
<stop offset="0.8125" stop-color="#ff5c00"/>
<stop offset="0.8281" stop-color="#ff4d00"/>
<stop offset="0.8438" stop-color="#ff3f00"/>
<stop offset="0.8594" stop-color="#ff3000"/>
<stop offset="0.8750" stop-color="#ff2100"/>
<stop offset="0.8906" stop-color="#fe1200"/>
<stop offset="0.9062" stop-color="#ec0400"/>
<stop offset="0.9219" stop-color="#da0000"/>
<stop offset="0.9375" stop-color="#c80000"/>
<stop offset="0.9531" stop-color="#b60000"/>
<stop offset="0.9688" stop-color="#a40000"/>
<stop offset="0.9844" stop-color="#920000"/>
<stop offset="1.0000" stop-color="#800000"/>
</linearGradient>
<linearGradient id="bg1" x1="0" y1="0" x2="1" y2="0">
<stop offset="0.000" stop-color="#00dbff"/>
<stop offset="0.125" stop-color="#00c3ff"/>
<stop offset="0.250" stop-color="#00abff"/>
<stop offset="0.375" stop-color="#0093ff"/>
<stop offset="0.500" stop-color="#007aff"/>
<stop offset="0.625" stop-color="#0062ff"/>
<stop offset="0.750" stop-color="#004aff"/>
<stop offset="0.875" stop-color="#0032ff"/>
<stop offset="1.000" stop-color="#0019ff"/>
</linearGradient>
<linearGradient id="bg2" x1="0" y1="0" x2="1" y2="0">
<stop offset="0.000" stop-color="#00a3ff"/>
<stop offset="0.125" stop-color="#0091ff"/>
<stop offset="0.250" stop-color="#007eff"/>
<stop offset="0.375" stop-color="#006cff"/>
<stop offset="0.500" stop-color="#0059ff"/>
<stop offset="0.625" stop-color="#0047ff"/>
<stop offset="0.750" stop-color="#0034ff"/>
<stop offset="0.875" stop-color="#0022ff"/>
<stop offset="1.000" stop-color="#000fff"/>
</linearGradient>
<linearGradient id="cg" x1="0" y1="0" x2="1" y2="0">
<stop offset="0.000" stop-color="#63ff94"/>
<stop offset="0.350" stop-color="#4affad"/>
<stop offset="0.700" stop-color="#19ffde"/>
<stop offset="1.000" stop-color="#00d1ff"/>
</linearGradient>
<linearGradient id="cg2" x1="0" y1="0" x2="1" y2="0">
<stop offset="0.000" stop-color="#5aff9c"/>
<stop offset="0.300" stop-color="#29ffce"/>
<stop offset="0.550" stop-color="#00b2ff"/>
<stop offset="1.000" stop-color="#002eff"/>
</linearGradient>
<linearGradient id="fr1" x1="0" y1="0" x2="1" y2="0">
<stop offset="0.000" stop-color="#52ffa5"/>
<stop offset="0.100" stop-color="#004dff"/>
<stop offset="0.200" stop-color="#00e5f7"/>
<stop offset="0.300" stop-color="#7bff7b"/>
<stop offset="0.400" stop-color="#deff19"/>
<stop offset="0.500" stop-color="#ff6800"/>
<stop offset="0.520" stop-color="#0019ff"/>
<stop offset="0.600" stop-color="#00e5f7"/>
<stop offset="0.700" stop-color="#7bff7b"/>
<stop offset="0.780" stop-color="#deff19"/>
<stop offset="0.880" stop-color="#ff3900"/>
<stop offset="0.900" stop-color="#0000ff"/>
<stop offset="1.000" stop-color="#52ffa5"/>
</linearGradient>
<linearGradient id="fr2" x1="0" y1="0" x2="1" y2="0">
<stop offset="0.000" stop-color="#ff3900"/>
<stop offset="0.100" stop-color="#ff9700"/>
<stop offset="0.250" stop-color="#004dff"/>
<stop offset="0.450" stop-color="#19ffde"/>
<stop offset="0.550" stop-color="#deff19"/>
<stop offset="0.600" stop-color="#0000f3"/>
<stop offset="0.700" stop-color="#004dff"/>
<stop offset="0.800" stop-color="#00e5f7"/>
<stop offset="0.900" stop-color="#ff9700"/>
<stop offset="1.000" stop-color="#7bff7b"/>
</linearGradient>
<pattern id="st" width="2" height="4" patternUnits="userSpaceOnUse"><rect x="0" y="0" width="1" height="4" fill="#0010d0"/><rect x="1" y="0" width="1" height="4" fill="#8cff6b"/></pattern>
<pattern id="vs" width="12" height="8" patternUnits="userSpaceOnUse"><rect x="0" y="0" width="5" height="8" fill="#63ff94"/></pattern>
<pattern id="ds" width="14" height="8" patternUnits="userSpaceOnUse" patternTransform="rotate(28)"><rect x="0" y="0" width="14" height="3.2" fill="#3affbd"/></pattern>
</defs>
<rect width="1050" height="800" fill="#fff"/>
<g>
<rect x="131" y="80" width="177" height="640" filter="url(#fn)"/>
<rect x="220" y="87" width="86" height="2" fill="url(#st)" opacity="0.85"/>
<rect x="223" y="82" width="83" height="3" fill="url(#fr1)"/>
<rect x="220" y="90" width="86" height="3" fill="url(#fr2)"/>
<rect x="223" y="82" width="83" height="3" filter="url(#fn)" opacity="0.15"/>
<rect x="220" y="90" width="86" height="3" filter="url(#fn)" opacity="0.15"/>
<rect x="131" y="379" width="98" height="24" fill="url(#vs)" opacity="0.4"/>
<rect x="131" y="416" width="106" height="18" fill="url(#ds)" opacity="0.35"/>
<rect x="131" y="439" width="89" height="13" fill="url(#ds)" opacity="0.25"/>
<rect x="131" y="86" width="177" height="1" fill="#7bff7b"/>
<rect x="131" y="94" width="177" height="1" fill="#7bff7b"/>
<rect x="131" y="95" width="177" height="6" filter="url(#fbw)"/>
<rect x="131" y="103" width="177" height="1" fill="#7bff7b"/>
<rect x="131" y="121" width="177" height="1" fill="#7bff7b"/>
<rect x="131" y="122" width="177" height="1" fill="#00007f"/>
<rect x="131" y="123" width="177" height="2" fill="#7bff7b"/>
<rect x="131" y="140" width="177" height="1" fill="#7bff7b"/>
<rect x="131" y="145" width="177" height="1" fill="#7bff7b"/>
<rect x="131" y="149" width="177" height="1" fill="#7bff7b"/>
<rect x="131" y="154" width="177" height="4" fill="#7bff7b"/>
<rect x="131" y="162" width="177" height="1" fill="#7bff7b"/>
<rect x="131" y="167" width="177" height="2" fill="#7bff7b"/>
<rect x="131" y="169" width="177" height="1" filter="url(#fgn)"/>
<rect x="131" y="170" width="177" height="5" fill="#7bff7b"/>
<rect x="131" y="182" width="177" height="1" fill="#7bff7b"/>
<rect x="131" y="183" width="106" height="11" filter="url(#fbw)"/>
<rect x="131" y="194" width="177" height="1" fill="#7bff7b"/>
<rect x="131" y="199" width="177" height="1" fill="#00007f"/>
<rect x="131" y="208" width="177" height="1" fill="#7bff7b"/>
<rect x="131" y="214" width="112" height="4" fill="url(#cg)"/>
<rect x="131" y="214" width="112" height="4" filter="url(#fcn)" opacity="0.25"/>
<rect x="243" y="214" width="65" height="4" filter="url(#fbw)"/>
<rect x="131" y="224" width="177" height="1" fill="#7bff7b"/>
<rect x="131" y="230" width="177" height="1" fill="#7bff7b"/>
<rect x="131" y="240" width="177" height="1" fill="#7bff7b"/>
<rect x="131" y="244" width="177" height="1" fill="#7bff7b"/>
<rect x="131" y="245" width="177" height="1" filter="url(#fgn)"/>
<rect x="131" y="246" width="177" height="1" fill="#7bff7b"/>
<rect x="131" y="249" width="177" height="3" fill="#7bff7b"/>
<rect x="131" y="252" width="177" height="1" filter="url(#fgn)"/>
<rect x="131" y="253" width="177" height="1" fill="#7bff7b"/>
<rect x="131" y="254" width="177" height="1" filter="url(#fgn)"/>
<rect x="131" y="255" width="177" height="1" fill="#7bff7b"/>
<rect x="131" y="256" width="177" height="3" filter="url(#fbw)"/>
<rect x="131" y="259" width="177" height="1" fill="#00007f"/>
<rect x="131" y="260" width="106" height="4" filter="url(#fbw)"/>
<rect x="131" y="264" width="177" height="3" fill="#7bff7b"/>
<rect x="131" y="267" width="177" height="2" filter="url(#fbw)"/>
<rect x="131" y="269" width="177" height="1" fill="#00007f"/>
<rect x="131" y="270" width="44" height="14" filter="url(#fbnA)"/>
<rect x="175" y="270" width="36" height="14" filter="url(#fbnB)"/>
<rect x="211" y="270" width="32" height="14" filter="url(#fbnC)"/>
<rect x="131" y="284" width="177" height="1" fill="#00007f"/>
<rect x="131" y="286" width="177" height="1" fill="#7bff7b"/>
<rect x="131" y="287" width="103" height="2" filter="url(#fb3)"/>
<rect x="131" y="289" width="177" height="3" fill="#7bff7b"/>
<rect x="131" y="292" width="177" height="1" fill="#00007f"/>
<rect x="131" y="293" width="177" height="1" fill="#7bff7b"/>
<rect x="131" y="294" width="44" height="5" filter="url(#fbnA)"/>
<rect x="175" y="294" width="36" height="5" filter="url(#fbnB)"/>
<rect x="211" y="294" width="32" height="5" filter="url(#fbnC)"/>
<rect x="131" y="299" width="177" height="1" fill="#00007f"/>
<rect x="131" y="300" width="177" height="1" fill="#7bff7b"/>
<rect x="131" y="306" width="177" height="1" fill="#00007f"/>
<rect x="131" y="321" width="177" height="1" fill="#7bff7b"/>
<rect x="131" y="327" width="177" height="1" fill="#00007f"/>
<rect x="131" y="331" width="177" height="1" fill="#00007f"/>
<rect x="131" y="350" width="177" height="1" fill="#7bff7b"/>
<rect x="131" y="351" width="177" height="1" filter="url(#fgn)"/>
<rect x="131" y="352" width="177" height="1" fill="#7bff7b"/>
<rect x="131" y="364" width="112" height="5" fill="url(#bg1)"/>
<rect x="131" y="364" width="112" height="5" filter="url(#fbn)" opacity="0.3"/>
<rect x="294" y="364" width="14" height="5" filter="url(#frn)"/>
<rect x="131" y="369" width="177" height="1" fill="#00007f"/>
<rect x="131" y="370" width="177" height="2" fill="#7bff7b"/>
<rect x="131" y="372" width="44" height="5" filter="url(#fbnA)"/>
<rect x="175" y="372" width="36" height="5" filter="url(#fbnB)"/>
<rect x="211" y="372" width="32" height="5" filter="url(#fbnC)"/>
<rect x="131" y="377" width="177" height="1" fill="#00007f"/>
<rect x="131" y="378" width="177" height="1" fill="#7bff7b"/>
<rect x="131" y="387" width="177" height="1" fill="#7bff7b"/>
<rect x="131" y="388" width="177" height="1" filter="url(#fgn)"/>
<rect x="131" y="389" width="177" height="1" fill="#7bff7b"/>
<rect x="131" y="395" width="177" height="1" fill="#7bff7b"/>
<rect x="131" y="396" width="177" height="1" filter="url(#fgn)"/>
<rect x="131" y="397" width="177" height="1" fill="#7bff7b"/>
<rect x="131" y="403" width="177" height="1" fill="#00007f"/>
<rect x="131" y="406" width="177" height="1" fill="#7bff7b"/>
<rect x="131" y="413" width="177" height="1" fill="#00007f"/>
<rect x="131" y="414" width="177" height="1" filter="url(#fn)"/>
<rect x="131" y="415" width="177" height="1" fill="#00007f"/>
<rect x="131" y="434" width="177" height="2" fill="#7bff7b"/>
<rect x="131" y="438" width="177" height="1" fill="#00007f"/>
<rect x="131" y="452" width="177" height="1" fill="#7bff7b"/>
<rect x="131" y="453" width="177" height="1" filter="url(#fgn)"/>
<rect x="131" y="454" width="177" height="1" fill="#7bff7b"/>
<rect x="131" y="460" width="177" height="1" fill="#00007f"/>
<rect x="131" y="470" width="112" height="3" fill="url(#bg1)"/>
<rect x="131" y="470" width="112" height="3" filter="url(#fbn)" opacity="0.3"/>
<rect x="131" y="473" width="177" height="1" fill="#00007f"/>
<rect x="131" y="474" width="112" height="3" fill="url(#bg1)"/>
<rect x="131" y="474" width="112" height="3" filter="url(#fbn)" opacity="0.3"/>
<rect x="131" y="477" width="177" height="1" fill="#00007f"/>
<rect x="131" y="478" width="112" height="2" fill="url(#bg1)"/>
<rect x="131" y="478" width="112" height="2" filter="url(#fbn)" opacity="0.3"/>
<rect x="294" y="472" width="14" height="8" filter="url(#frn)"/>
<rect x="131" y="482" width="44" height="2" filter="url(#fbnA)"/>
<rect x="175" y="482" width="36" height="2" filter="url(#fbnB)"/>
<rect x="211" y="482" width="32" height="2" filter="url(#fbnC)"/>
<rect x="131" y="486" width="44" height="2" filter="url(#fbnA)"/>
<rect x="175" y="486" width="36" height="2" filter="url(#fbnB)"/>
<rect x="211" y="486" width="32" height="2" filter="url(#fbnC)"/>
<rect x="131" y="490" width="44" height="2" filter="url(#fbnA)"/>
<rect x="175" y="490" width="36" height="2" filter="url(#fbnB)"/>
<rect x="211" y="490" width="32" height="2" filter="url(#fbnC)"/>
<rect x="131" y="494" width="44" height="2" filter="url(#fbnA)"/>
<rect x="175" y="494" width="36" height="2" filter="url(#fbnB)"/>
<rect x="211" y="494" width="32" height="2" filter="url(#fbnC)"/>
<rect x="131" y="498" width="44" height="2" filter="url(#fbnA)"/>
<rect x="175" y="498" width="36" height="2" filter="url(#fbnB)"/>
<rect x="211" y="498" width="32" height="2" filter="url(#fbnC)"/>
<rect x="131" y="502" width="44" height="2" filter="url(#fbnA)"/>
<rect x="175" y="502" width="36" height="2" filter="url(#fbnB)"/>
<rect x="211" y="502" width="32" height="2" filter="url(#fbnC)"/>
<rect x="131" y="505" width="177" height="1" fill="#00007f"/>
<rect x="131" y="508" width="177" height="1" fill="#00007f"/>
<rect x="131" y="509" width="177" height="2" filter="url(#fgN)"/>
<rect x="131" y="515" width="177" height="1" fill="#00007f"/>
<rect x="131" y="518" width="177" height="1" fill="#00007f"/>
<rect x="131" y="521" width="177" height="1" fill="#00007f"/>
<rect x="131" y="524" width="177" height="1" fill="#00007f"/>
<rect x="131" y="527" width="177" height="1" fill="#00007f"/>
<rect x="131" y="528" width="112" height="1" fill="url(#bg1)"/>
<rect x="131" y="528" width="112" height="1" filter="url(#fbn)" opacity="0.45"/>
<rect x="131" y="531" width="112" height="2" fill="url(#bg1)"/>
<rect x="131" y="531" width="112" height="2" filter="url(#fbn)" opacity="0.5"/>
<rect x="131" y="535" width="112" height="1" fill="url(#bg1)"/>
<rect x="131" y="535" width="112" height="1" filter="url(#fbn)" opacity="0.45"/>
<rect x="131" y="538" width="112" height="2" fill="url(#bg1)"/>
<rect x="131" y="538" width="112" height="2" filter="url(#fbn)" opacity="0.5"/>
<rect x="131" y="541" width="112" height="3" fill="url(#bg1)"/>
<rect x="131" y="541" width="112" height="3" filter="url(#fbn)" opacity="0.3"/>
<rect x="131" y="544" width="177" height="2" fill="#7bff7b"/>
<rect x="131" y="552" width="177" height="1" fill="#00007f"/>
<rect x="131" y="563" width="177" height="1" fill="#00007f"/>
<rect x="131" y="564" width="112" height="2" fill="url(#cg)"/>
<rect x="131" y="564" width="112" height="2" filter="url(#fcn)" opacity="0.25"/>
<rect x="131" y="566" width="112" height="1" filter="url(#fgn)"/>
<rect x="131" y="567" width="112" height="2" fill="url(#cg)"/>
<rect x="131" y="567" width="112" height="2" filter="url(#fcn)" opacity="0.25"/>
<rect x="131" y="569" width="177" height="1" fill="#00007f"/>
<rect x="243" y="564" width="65" height="5" filter="url(#fgN)"/>
<rect x="131" y="570" width="112" height="5" fill="url(#bg1)"/>
<rect x="131" y="570" width="112" height="5" filter="url(#fbn)" opacity="0.3"/>
<rect x="296" y="569" width="12" height="6" filter="url(#frn)"/>
<rect x="131" y="575" width="177" height="2" fill="#00007f"/>
<rect x="131" y="577" width="112" height="3" fill="url(#cg2)"/>
<rect x="131" y="577" width="112" height="3" filter="url(#fcn)" opacity="0.25"/>
<rect x="131" y="580" width="177" height="1" filter="url(#fgn)"/>
<rect x="131" y="581" width="177" height="1" fill="#00007f"/>
<rect x="131" y="602" width="177" height="1" filter="url(#fgN)"/>
<rect x="131" y="663" width="177" height="1" fill="#7bff7b"/>
<rect x="131" y="664" width="177" height="2" filter="url(#fgn)"/>
<rect x="131" y="666" width="177" height="1" fill="#7bff7b"/>
<rect x="131" y="684" width="177" height="1" fill="#00007f"/>
<rect x="131" y="686" width="177" height="3" filter="url(#fbw)"/>
<rect x="131" y="690" width="177" height="4" fill="#7bff7b"/>
<rect x="131" y="694" width="177" height="1" filter="url(#fgn)"/>
<rect x="131" y="695" width="177" height="2" fill="#7bff7b"/>
<rect x="131" y="700" width="177" height="2" fill="#00007f"/>
<rect x="131" y="709" width="177" height="1" fill="#00007f"/>
<rect x="131" y="710" width="112" height="5" fill="url(#bg1)"/>
<rect x="131" y="710" width="112" height="5" filter="url(#fbn)" opacity="0.3"/>
<rect x="294" y="710" width="14" height="10" filter="url(#frn)"/>
<rect x="131" y="715" width="177" height="1" fill="#00007f"/>
<rect x="131" y="716" width="112" height="4" fill="url(#cg2)"/>
<rect x="131" y="716" width="112" height="4" filter="url(#fcn)" opacity="0.25"/>
<rect x="131" y="588" width="177" height="1" fill="#00007f"/>
<rect x="131" y="591" width="177" height="1" fill="#00007f"/>
<rect x="131" y="596" width="177" height="1" fill="#00007f"/>
<rect x="131" y="608" width="177" height="1" fill="#00007f"/>
<rect x="131" y="611" width="177" height="1" fill="#00007f"/>
<rect x="131" y="615" width="177" height="1" fill="#00007f"/>
<rect x="131" y="621" width="177" height="1" fill="#00007f"/>
<rect x="131" y="626" width="177" height="1" fill="#00007f"/>
<rect x="131" y="629" width="177" height="1" fill="#00007f"/>
<rect x="131" y="633" width="177" height="1" fill="#00007f"/>
<rect x="131" y="634" width="177" height="1" fill="#00007f"/>
<rect x="131" y="637" width="177" height="1" fill="#00007f"/>
<rect x="131" y="642" width="177" height="1" fill="#00007f"/>
<rect x="131" y="646" width="177" height="1" fill="#00007f"/>
<rect x="131" y="650" width="177" height="1" fill="#00007f"/>
<rect x="131" y="655" width="177" height="1" fill="#00007f"/>
<rect x="131" y="655" width="177" height="1" fill="#00007f"/>
<rect x="131" y="661" width="177" height="1" fill="#00007f"/>
<rect x="131" y="662" width="177" height="1" fill="#00007f"/>
<rect x="131" y="599" width="177" height="1" fill="#00007f"/>
<rect x="131" y="604" width="177" height="1" fill="#00007f"/>
</g>
<g>
<rect x="344" y="80" width="176" height="640" filter="url(#fn)"/>
<rect x="432" y="87" width="87" height="2" fill="url(#st)" opacity="0.85"/>
<rect x="436" y="82" width="83" height="3" fill="url(#fr1)"/>
<rect x="432" y="90" width="87" height="3" fill="url(#fr2)"/>
<rect x="436" y="82" width="83" height="3" filter="url(#fn)" opacity="0.15"/>
<rect x="432" y="90" width="87" height="3" filter="url(#fn)" opacity="0.15"/>
<rect x="344" y="379" width="97" height="24" fill="url(#vs)" opacity="0.4"/>
<rect x="344" y="416" width="106" height="18" fill="url(#ds)" opacity="0.35"/>
<rect x="344" y="439" width="88" height="13" fill="url(#ds)" opacity="0.25"/>
<rect x="344" y="86" width="176" height="1" fill="#7bff7b"/>
<rect x="344" y="94" width="176" height="1" fill="#7bff7b"/>
<rect x="344" y="95" width="176" height="6" filter="url(#fbw)"/>
<rect x="344" y="103" width="176" height="1" fill="#7bff7b"/>
<rect x="344" y="121" width="176" height="1" fill="#7bff7b"/>
<rect x="344" y="122" width="176" height="1" fill="#00007f"/>
<rect x="344" y="123" width="176" height="2" fill="#7bff7b"/>
<rect x="344" y="140" width="176" height="1" fill="#7bff7b"/>
<rect x="344" y="145" width="176" height="1" fill="#7bff7b"/>
<rect x="344" y="149" width="176" height="1" fill="#7bff7b"/>
<rect x="344" y="154" width="176" height="4" fill="#7bff7b"/>
<rect x="344" y="162" width="176" height="1" fill="#7bff7b"/>
<rect x="344" y="167" width="176" height="2" fill="#7bff7b"/>
<rect x="344" y="169" width="176" height="1" filter="url(#fgn)"/>
<rect x="344" y="170" width="176" height="5" fill="#7bff7b"/>
<rect x="344" y="182" width="176" height="1" fill="#7bff7b"/>
<rect x="344" y="183" width="106" height="11" filter="url(#fbnC)" opacity="0.75"/>
<rect x="344" y="194" width="176" height="1" fill="#7bff7b"/>
<rect x="344" y="199" width="176" height="1" fill="#00007f"/>
<rect x="344" y="208" width="176" height="1" fill="#7bff7b"/>
<rect x="344" y="214" width="111" height="4" fill="url(#cg)"/>
<rect x="344" y="214" width="111" height="4" filter="url(#fcn)" opacity="0.25"/>
<rect x="455" y="214" width="65" height="4" filter="url(#fbw)"/>
<rect x="344" y="224" width="176" height="1" fill="#7bff7b"/>
<rect x="344" y="230" width="176" height="1" fill="#7bff7b"/>
<rect x="344" y="240" width="176" height="1" fill="#7bff7b"/>
<rect x="344" y="244" width="176" height="1" fill="#7bff7b"/>
<rect x="344" y="245" width="176" height="1" filter="url(#fgn)"/>
<rect x="344" y="246" width="176" height="1" fill="#7bff7b"/>
<rect x="344" y="249" width="176" height="3" fill="#7bff7b"/>
<rect x="344" y="252" width="176" height="1" filter="url(#fgn)"/>
<rect x="344" y="253" width="176" height="1" fill="#7bff7b"/>
<rect x="344" y="254" width="176" height="1" filter="url(#fgn)"/>
<rect x="344" y="255" width="176" height="1" fill="#7bff7b"/>
<rect x="344" y="256" width="176" height="3" filter="url(#fbw)"/>
<rect x="344" y="259" width="176" height="1" fill="#00007f"/>
<rect x="344" y="260" width="106" height="4" filter="url(#fbw)"/>
<rect x="344" y="264" width="176" height="3" fill="#7bff7b"/>
<rect x="344" y="267" width="176" height="2" filter="url(#fbw)"/>
<rect x="344" y="269" width="176" height="1" fill="#00007f"/>
<rect x="344" y="270" width="44" height="14" filter="url(#fbnA)"/>
<rect x="388" y="270" width="35" height="14" filter="url(#fbnB)"/>
<rect x="423" y="270" width="32" height="14" filter="url(#fbnC)"/>
<rect x="344" y="284" width="176" height="1" fill="#00007f"/>
<rect x="344" y="286" width="176" height="1" fill="#7bff7b"/>
<rect x="344" y="287" width="102" height="2" filter="url(#fb3)"/>
<rect x="344" y="289" width="176" height="3" fill="#7bff7b"/>
<rect x="344" y="292" width="176" height="1" fill="#00007f"/>
<rect x="344" y="293" width="176" height="1" fill="#7bff7b"/>
<rect x="344" y="294" width="44" height="5" filter="url(#fbnA)"/>
<rect x="388" y="294" width="35" height="5" filter="url(#fbnB)"/>
<rect x="423" y="294" width="32" height="5" filter="url(#fbnC)"/>
<rect x="344" y="299" width="176" height="1" fill="#00007f"/>
<rect x="344" y="300" width="176" height="1" fill="#7bff7b"/>
<rect x="344" y="306" width="176" height="1" fill="#00007f"/>
<rect x="344" y="321" width="176" height="1" fill="#7bff7b"/>
<rect x="344" y="327" width="176" height="1" fill="#00007f"/>
<rect x="344" y="331" width="176" height="1" fill="#00007f"/>
<rect x="344" y="350" width="176" height="1" fill="#7bff7b"/>
<rect x="344" y="351" width="176" height="1" filter="url(#fgn)"/>
<rect x="344" y="352" width="176" height="1" fill="#7bff7b"/>
<rect x="344" y="364" width="111" height="5" fill="url(#bg2)"/>
<rect x="344" y="364" width="111" height="5" filter="url(#fbn)" opacity="0.3"/>
<rect x="506" y="364" width="14" height="5" filter="url(#frn)"/>
<rect x="344" y="369" width="176" height="1" fill="#00007f"/>
<rect x="344" y="370" width="176" height="2" fill="#7bff7b"/>
<rect x="344" y="372" width="44" height="5" filter="url(#fbnA)"/>
<rect x="388" y="372" width="35" height="5" filter="url(#fbnB)"/>
<rect x="423" y="372" width="32" height="5" filter="url(#fbnC)"/>
<rect x="344" y="377" width="176" height="1" fill="#00007f"/>
<rect x="344" y="378" width="176" height="1" fill="#7bff7b"/>
<rect x="344" y="387" width="176" height="1" fill="#7bff7b"/>
<rect x="344" y="388" width="176" height="1" filter="url(#fgn)"/>
<rect x="344" y="389" width="176" height="1" fill="#7bff7b"/>
<rect x="344" y="395" width="176" height="1" fill="#7bff7b"/>
<rect x="344" y="396" width="176" height="1" filter="url(#fgn)"/>
<rect x="344" y="397" width="176" height="1" fill="#7bff7b"/>
<rect x="344" y="403" width="176" height="1" fill="#00007f"/>
<rect x="344" y="406" width="176" height="1" fill="#7bff7b"/>
<rect x="344" y="413" width="176" height="1" fill="#00007f"/>
<rect x="344" y="414" width="176" height="1" filter="url(#fn)"/>
<rect x="344" y="415" width="176" height="1" fill="#00007f"/>
<rect x="344" y="434" width="176" height="2" fill="#7bff7b"/>
<rect x="344" y="438" width="176" height="1" fill="#00007f"/>
<rect x="344" y="452" width="176" height="1" fill="#7bff7b"/>
<rect x="344" y="453" width="176" height="1" filter="url(#fgn)"/>
<rect x="344" y="454" width="176" height="1" fill="#7bff7b"/>
<rect x="344" y="460" width="176" height="1" fill="#00007f"/>
<rect x="344" y="470" width="111" height="3" fill="url(#bg2)"/>
<rect x="344" y="470" width="111" height="3" filter="url(#fbn)" opacity="0.3"/>
<rect x="344" y="473" width="176" height="1" fill="#00007f"/>
<rect x="344" y="474" width="111" height="3" fill="url(#bg2)"/>
<rect x="344" y="474" width="111" height="3" filter="url(#fbn)" opacity="0.3"/>
<rect x="344" y="477" width="176" height="1" fill="#00007f"/>
<rect x="344" y="478" width="111" height="2" fill="url(#bg2)"/>
<rect x="344" y="478" width="111" height="2" filter="url(#fbn)" opacity="0.3"/>
<rect x="506" y="472" width="14" height="8" filter="url(#frn)"/>
<rect x="344" y="482" width="44" height="2" filter="url(#fbnA)"/>
<rect x="388" y="482" width="35" height="2" filter="url(#fbnB)"/>
<rect x="423" y="482" width="32" height="2" filter="url(#fbnC)"/>
<rect x="344" y="486" width="44" height="2" filter="url(#fbnA)"/>
<rect x="388" y="486" width="35" height="2" filter="url(#fbnB)"/>
<rect x="423" y="486" width="32" height="2" filter="url(#fbnC)"/>
<rect x="344" y="490" width="44" height="2" filter="url(#fbnA)"/>
<rect x="388" y="490" width="35" height="2" filter="url(#fbnB)"/>
<rect x="423" y="490" width="32" height="2" filter="url(#fbnC)"/>
<rect x="344" y="494" width="44" height="2" filter="url(#fbnA)"/>
<rect x="388" y="494" width="35" height="2" filter="url(#fbnB)"/>
<rect x="423" y="494" width="32" height="2" filter="url(#fbnC)"/>
<rect x="344" y="498" width="44" height="2" filter="url(#fbnA)"/>
<rect x="388" y="498" width="35" height="2" filter="url(#fbnB)"/>
<rect x="423" y="498" width="32" height="2" filter="url(#fbnC)"/>
<rect x="344" y="502" width="44" height="2" filter="url(#fbnA)"/>
<rect x="388" y="502" width="35" height="2" filter="url(#fbnB)"/>
<rect x="423" y="502" width="32" height="2" filter="url(#fbnC)"/>
<rect x="344" y="505" width="176" height="1" fill="#00007f"/>
<rect x="344" y="508" width="176" height="1" fill="#00007f"/>
<rect x="344" y="509" width="176" height="2" filter="url(#fgN)"/>
<rect x="344" y="515" width="176" height="1" fill="#00007f"/>
<rect x="344" y="518" width="176" height="1" fill="#00007f"/>
<rect x="344" y="521" width="176" height="1" fill="#00007f"/>
<rect x="344" y="524" width="176" height="1" fill="#00007f"/>
<rect x="344" y="527" width="176" height="1" fill="#00007f"/>
<rect x="344" y="528" width="111" height="1" fill="url(#bg2)"/>
<rect x="344" y="528" width="111" height="1" filter="url(#fbn)" opacity="0.45"/>
<rect x="344" y="531" width="111" height="2" fill="url(#bg2)"/>
<rect x="344" y="531" width="111" height="2" filter="url(#fbn)" opacity="0.5"/>
<rect x="344" y="535" width="111" height="1" fill="url(#bg2)"/>
<rect x="344" y="535" width="111" height="1" filter="url(#fbn)" opacity="0.45"/>
<rect x="344" y="538" width="111" height="2" fill="url(#bg2)"/>
<rect x="344" y="538" width="111" height="2" filter="url(#fbn)" opacity="0.5"/>
<rect x="344" y="541" width="111" height="3" fill="url(#bg2)"/>
<rect x="344" y="541" width="111" height="3" filter="url(#fbn)" opacity="0.3"/>
<rect x="344" y="544" width="176" height="2" fill="#7bff7b"/>
<rect x="344" y="552" width="176" height="1" fill="#00007f"/>
<rect x="344" y="563" width="176" height="1" fill="#00007f"/>
<rect x="344" y="564" width="111" height="2" fill="url(#cg)"/>
<rect x="344" y="564" width="111" height="2" filter="url(#fcn)" opacity="0.25"/>
<rect x="344" y="566" width="111" height="1" filter="url(#fgn)"/>
<rect x="344" y="567" width="111" height="2" fill="url(#cg)"/>
<rect x="344" y="567" width="111" height="2" filter="url(#fcn)" opacity="0.25"/>
<rect x="344" y="569" width="176" height="1" fill="#00007f"/>
<rect x="455" y="564" width="65" height="5" filter="url(#fgN)"/>
<rect x="344" y="570" width="111" height="5" fill="url(#bg2)"/>
<rect x="344" y="570" width="111" height="5" filter="url(#fbn)" opacity="0.3"/>
<rect x="508" y="569" width="12" height="6" filter="url(#frn)"/>
<rect x="344" y="575" width="176" height="2" fill="#00007f"/>
<rect x="344" y="577" width="111" height="3" fill="url(#cg2)"/>
<rect x="344" y="577" width="111" height="3" filter="url(#fcn)" opacity="0.25"/>
<rect x="344" y="580" width="176" height="1" filter="url(#fgn)"/>
<rect x="344" y="581" width="176" height="1" fill="#00007f"/>
<rect x="344" y="602" width="176" height="1" filter="url(#fgN)"/>
<rect x="344" y="663" width="176" height="1" fill="#7bff7b"/>
<rect x="344" y="664" width="176" height="2" filter="url(#fgn)"/>
<rect x="344" y="666" width="176" height="1" fill="#7bff7b"/>
<rect x="344" y="684" width="176" height="1" fill="#00007f"/>
<rect x="344" y="686" width="176" height="3" filter="url(#fbw)"/>
<rect x="344" y="690" width="176" height="4" fill="#7bff7b"/>
<rect x="344" y="694" width="176" height="1" filter="url(#fgn)"/>
<rect x="344" y="695" width="176" height="2" fill="#7bff7b"/>
<rect x="344" y="700" width="176" height="2" fill="#00007f"/>
<rect x="344" y="709" width="176" height="1" fill="#00007f"/>
<rect x="344" y="710" width="111" height="5" fill="url(#bg2)"/>
<rect x="344" y="710" width="111" height="5" filter="url(#fbn)" opacity="0.3"/>
<rect x="506" y="710" width="14" height="10" filter="url(#frn)"/>
<rect x="344" y="715" width="176" height="1" fill="#00007f"/>
<rect x="344" y="716" width="111" height="4" fill="url(#bg2)"/>
<rect x="344" y="716" width="111" height="4" filter="url(#fbn)" opacity="0.3"/>
<rect x="344" y="588" width="176" height="1" fill="#00007f"/>
<rect x="344" y="591" width="176" height="1" fill="#00007f"/>
<rect x="344" y="596" width="176" height="1" fill="#00007f"/>
<rect x="344" y="608" width="176" height="1" fill="#00007f"/>
<rect x="344" y="611" width="176" height="1" fill="#00007f"/>
<rect x="344" y="615" width="176" height="1" fill="#00007f"/>
<rect x="344" y="621" width="176" height="1" fill="#00007f"/>
<rect x="344" y="626" width="176" height="1" fill="#00007f"/>
<rect x="344" y="629" width="176" height="1" fill="#00007f"/>
<rect x="344" y="633" width="176" height="1" fill="#00007f"/>
<rect x="344" y="634" width="176" height="1" fill="#00007f"/>
<rect x="344" y="637" width="176" height="1" fill="#00007f"/>
<rect x="344" y="642" width="176" height="1" fill="#00007f"/>
<rect x="344" y="646" width="176" height="1" fill="#00007f"/>
<rect x="344" y="650" width="176" height="1" fill="#00007f"/>
<rect x="344" y="655" width="176" height="1" fill="#00007f"/>
<rect x="344" y="655" width="176" height="1" fill="#00007f"/>
<rect x="344" y="661" width="176" height="1" fill="#00007f"/>
<rect x="344" y="662" width="176" height="1" fill="#00007f"/>
<rect x="344" y="599" width="176" height="1" fill="#00007f"/>
<rect x="344" y="604" width="176" height="1" fill="#00007f"/>
</g>
<g>
<rect x="556" y="80" width="177" height="640" filter="url(#fn)"/>
<rect x="644" y="87" width="87" height="2" fill="url(#st)" opacity="0.85"/>
<rect x="648" y="82" width="83" height="3" fill="url(#fr1)"/>
<rect x="644" y="90" width="87" height="3" fill="url(#fr2)"/>
<rect x="648" y="82" width="83" height="3" filter="url(#fn)" opacity="0.15"/>
<rect x="644" y="90" width="87" height="3" filter="url(#fn)" opacity="0.15"/>
<rect x="556" y="86" width="177" height="1" fill="#7bff7b"/>
<rect x="556" y="94" width="177" height="1" fill="#7bff7b"/>
<rect x="556" y="103" width="177" height="1" fill="#7bff7b"/>
<rect x="556" y="121" width="177" height="1" fill="#7bff7b"/>
<rect x="556" y="122" width="177" height="1" fill="#00007f"/>
<rect x="556" y="123" width="177" height="2" fill="#7bff7b"/>
<rect x="556" y="140" width="177" height="1" fill="#7bff7b"/>
<rect x="556" y="145" width="177" height="1" fill="#7bff7b"/>
<rect x="556" y="149" width="177" height="1" fill="#7bff7b"/>
<rect x="556" y="154" width="177" height="4" fill="#7bff7b"/>
<rect x="556" y="162" width="177" height="1" fill="#7bff7b"/>
<rect x="556" y="167" width="177" height="2" fill="#7bff7b"/>
<rect x="556" y="169" width="177" height="1" filter="url(#fgn)"/>
<rect x="556" y="170" width="177" height="5" fill="#7bff7b"/>
<rect x="556" y="182" width="177" height="1" fill="#7bff7b"/>
<rect x="556" y="194" width="177" height="1" fill="#7bff7b"/>
<rect x="556" y="199" width="177" height="1" fill="#00007f"/>
<rect x="556" y="208" width="177" height="1" fill="#7bff7b"/>
<rect x="556" y="214" width="177" height="1" fill="#7bff7b"/>
<rect x="556" y="224" width="177" height="1" fill="#7bff7b"/>
<rect x="556" y="230" width="177" height="1" fill="#7bff7b"/>
<rect x="556" y="240" width="177" height="1" fill="#7bff7b"/>
<rect x="556" y="244" width="177" height="1" fill="#7bff7b"/>
<rect x="556" y="245" width="177" height="1" filter="url(#fgn)"/>
<rect x="556" y="246" width="177" height="1" fill="#7bff7b"/>
<rect x="556" y="249" width="177" height="3" fill="#7bff7b"/>
<rect x="556" y="252" width="177" height="1" filter="url(#fgn)"/>
<rect x="556" y="253" width="177" height="1" fill="#7bff7b"/>
<rect x="556" y="254" width="177" height="1" filter="url(#fgn)"/>
<rect x="556" y="255" width="177" height="1" fill="#7bff7b"/>
<rect x="556" y="259" width="177" height="1" fill="#00007f"/>
<rect x="556" y="264" width="177" height="3" fill="#7bff7b"/>
<rect x="556" y="269" width="177" height="1" fill="#00007f"/>
<rect x="556" y="284" width="177" height="1" fill="#00007f"/>
<rect x="556" y="285" width="177" height="2" fill="#7bff7b"/>
<rect x="556" y="289" width="177" height="3" fill="#7bff7b"/>
<rect x="556" y="292" width="177" height="1" fill="#00007f"/>
<rect x="556" y="293" width="177" height="1" fill="#7bff7b"/>
<rect x="556" y="299" width="177" height="1" fill="#00007f"/>
<rect x="556" y="300" width="177" height="1" fill="#7bff7b"/>
<rect x="556" y="306" width="177" height="1" fill="#00007f"/>
<rect x="556" y="321" width="177" height="1" fill="#7bff7b"/>
<rect x="556" y="327" width="177" height="1" fill="#00007f"/>
<rect x="556" y="331" width="177" height="1" fill="#00007f"/>
<rect x="556" y="350" width="177" height="1" fill="#7bff7b"/>
<rect x="556" y="351" width="177" height="1" filter="url(#fgn)"/>
<rect x="556" y="352" width="177" height="1" fill="#7bff7b"/>
<rect x="556" y="363" width="177" height="1" fill="#7bff7b"/>
<rect x="556" y="369" width="177" height="1" fill="#00007f"/>
<rect x="556" y="370" width="177" height="2" fill="#7bff7b"/>
<rect x="556" y="377" width="177" height="1" fill="#00007f"/>
<rect x="556" y="378" width="177" height="1" fill="#7bff7b"/>
<rect x="556" y="387" width="177" height="1" fill="#7bff7b"/>
<rect x="556" y="388" width="177" height="1" filter="url(#fgn)"/>
<rect x="556" y="389" width="177" height="1" fill="#7bff7b"/>
<rect x="556" y="395" width="177" height="1" fill="#7bff7b"/>
<rect x="556" y="396" width="177" height="1" filter="url(#fgn)"/>
<rect x="556" y="397" width="177" height="1" fill="#7bff7b"/>
<rect x="556" y="403" width="177" height="1" fill="#00007f"/>
<rect x="556" y="406" width="177" height="1" fill="#7bff7b"/>
<rect x="556" y="413" width="177" height="1" fill="#00007f"/>
<rect x="556" y="414" width="177" height="1" filter="url(#fn)"/>
<rect x="556" y="415" width="177" height="1" fill="#00007f"/>
<rect x="556" y="434" width="177" height="2" fill="#7bff7b"/>
<rect x="556" y="438" width="177" height="1" fill="#00007f"/>
<rect x="556" y="452" width="177" height="1" fill="#7bff7b"/>
<rect x="556" y="453" width="177" height="1" filter="url(#fgn)"/>
<rect x="556" y="454" width="177" height="1" fill="#7bff7b"/>
<rect x="556" y="460" width="177" height="1" fill="#00007f"/>
<rect x="556" y="473" width="177" height="1" fill="#00007f"/>
<rect x="556" y="476" width="177" height="1" fill="#00007f"/>
<rect x="556" y="505" width="177" height="1" fill="#00007f"/>
<rect x="556" y="508" width="177" height="1" fill="#00007f"/>
<rect x="556" y="509" width="177" height="2" filter="url(#fgN)"/>
<rect x="556" y="515" width="177" height="1" fill="#00007f"/>
<rect x="556" y="518" width="177" height="1" fill="#00007f"/>
<rect x="556" y="521" width="177" height="1" fill="#00007f"/>
<rect x="556" y="524" width="177" height="1" fill="#00007f"/>
<rect x="556" y="527" width="177" height="1" fill="#00007f"/>
<rect x="556" y="544" width="177" height="2" fill="#7bff7b"/>
<rect x="556" y="552" width="177" height="1" fill="#00007f"/>
<rect x="556" y="563" width="177" height="1" fill="#00007f"/>
<rect x="556" y="564" width="177" height="1" fill="#7bff7b"/>
<rect x="556" y="565" width="177" height="2" filter="url(#fgn)"/>
<rect x="556" y="567" width="177" height="1" fill="#7bff7b"/>
<rect x="556" y="568" width="177" height="1" filter="url(#fgN)"/>
<rect x="556" y="569" width="177" height="1" fill="#00007f"/>
<rect x="556" y="570" width="177" height="4" filter="url(#frn)" opacity="0.35"/>
<rect x="556" y="574" width="177" height="1" fill="#00007f"/>
<rect x="556" y="577" width="177" height="3" filter="url(#fgN)"/>
<rect x="556" y="580" width="177" height="1" fill="#00007f"/>
<rect x="556" y="581" width="177" height="3" filter="url(#fgN)"/>
<rect x="556" y="602" width="177" height="1" filter="url(#fgN)"/>
<rect x="556" y="663" width="177" height="1" fill="#7bff7b"/>
<rect x="556" y="664" width="177" height="2" filter="url(#fgn)"/>
<rect x="556" y="666" width="177" height="1" fill="#7bff7b"/>
<rect x="556" y="684" width="177" height="1" fill="#00007f"/>
<rect x="556" y="689" width="177" height="1" fill="#00007f"/>
<rect x="556" y="690" width="177" height="4" fill="#7bff7b"/>
<rect x="556" y="694" width="177" height="1" filter="url(#fgn)"/>
<rect x="556" y="695" width="177" height="2" fill="#7bff7b"/>
<rect x="556" y="700" width="177" height="2" fill="#00007f"/>
<rect x="556" y="709" width="177" height="1" fill="#00007f"/>
<rect x="556" y="710" width="177" height="1" fill="#7bff7b"/>
<rect x="556" y="716" width="177" height="1" fill="#00007f"/>
<rect x="556" y="719" width="177" height="1" fill="#7bff7b"/>
<rect x="556" y="588" width="177" height="1" fill="#00007f"/>
<rect x="556" y="591" width="177" height="1" fill="#00007f"/>
<rect x="556" y="596" width="177" height="1" fill="#00007f"/>
<rect x="556" y="608" width="177" height="1" fill="#00007f"/>
<rect x="556" y="611" width="177" height="1" fill="#00007f"/>
<rect x="556" y="615" width="177" height="1" fill="#00007f"/>
<rect x="556" y="621" width="177" height="1" fill="#00007f"/>
<rect x="556" y="626" width="177" height="1" fill="#00007f"/>
<rect x="556" y="629" width="177" height="1" fill="#00007f"/>
<rect x="556" y="633" width="177" height="1" fill="#00007f"/>
<rect x="556" y="634" width="177" height="1" fill="#00007f"/>
<rect x="556" y="637" width="177" height="1" fill="#00007f"/>
<rect x="556" y="642" width="177" height="1" fill="#00007f"/>
<rect x="556" y="646" width="177" height="1" fill="#00007f"/>
<rect x="556" y="650" width="177" height="1" fill="#00007f"/>
<rect x="556" y="655" width="177" height="1" fill="#00007f"/>
<rect x="556" y="655" width="177" height="1" fill="#00007f"/>
<rect x="556" y="661" width="177" height="1" fill="#00007f"/>
<rect x="556" y="662" width="177" height="1" fill="#00007f"/>
<rect x="556" y="599" width="177" height="1" fill="#00007f"/>
<rect x="556" y="604" width="177" height="1" fill="#00007f"/>
</g>
<g>
<rect x="768" y="80" width="177" height="640" filter="url(#fn)"/>
<rect x="857" y="87" width="86" height="2" fill="url(#st)" opacity="0.85"/>
<rect x="860" y="82" width="83" height="3" fill="url(#fr1)"/>
<rect x="857" y="90" width="86" height="3" fill="url(#fr2)"/>
<rect x="860" y="82" width="83" height="3" filter="url(#fn)" opacity="0.15"/>
<rect x="857" y="90" width="86" height="3" filter="url(#fn)" opacity="0.15"/>
<rect x="768" y="86" width="177" height="1" fill="#7bff7b"/>
<rect x="768" y="94" width="177" height="1" fill="#7bff7b"/>
<rect x="768" y="103" width="177" height="1" fill="#7bff7b"/>
<rect x="768" y="121" width="177" height="1" fill="#7bff7b"/>
<rect x="768" y="122" width="177" height="1" fill="#00007f"/>
<rect x="768" y="123" width="177" height="2" fill="#7bff7b"/>
<rect x="768" y="140" width="177" height="1" fill="#7bff7b"/>
<rect x="768" y="145" width="177" height="1" fill="#7bff7b"/>
<rect x="768" y="149" width="177" height="1" fill="#7bff7b"/>
<rect x="768" y="154" width="177" height="4" fill="#7bff7b"/>
<rect x="768" y="162" width="177" height="1" fill="#7bff7b"/>
<rect x="768" y="167" width="177" height="2" fill="#7bff7b"/>
<rect x="768" y="169" width="177" height="1" filter="url(#fgn)"/>
<rect x="768" y="170" width="177" height="5" fill="#7bff7b"/>
<rect x="768" y="182" width="177" height="1" fill="#7bff7b"/>
<rect x="768" y="194" width="177" height="1" fill="#7bff7b"/>
<rect x="768" y="199" width="177" height="1" fill="#00007f"/>
<rect x="768" y="208" width="177" height="1" fill="#7bff7b"/>
<rect x="768" y="214" width="177" height="1" fill="#7bff7b"/>
<rect x="768" y="224" width="177" height="1" fill="#7bff7b"/>
<rect x="768" y="230" width="177" height="1" fill="#7bff7b"/>
<rect x="768" y="240" width="177" height="1" fill="#7bff7b"/>
<rect x="768" y="244" width="177" height="1" fill="#7bff7b"/>
<rect x="768" y="245" width="177" height="1" filter="url(#fgn)"/>
<rect x="768" y="246" width="177" height="1" fill="#7bff7b"/>
<rect x="768" y="249" width="177" height="3" fill="#7bff7b"/>
<rect x="768" y="252" width="177" height="1" filter="url(#fgn)"/>
<rect x="768" y="253" width="177" height="1" fill="#7bff7b"/>
<rect x="768" y="254" width="177" height="1" filter="url(#fgn)"/>
<rect x="768" y="255" width="177" height="1" fill="#7bff7b"/>
<rect x="768" y="259" width="177" height="1" fill="#00007f"/>
<rect x="768" y="264" width="177" height="3" fill="#7bff7b"/>
<rect x="768" y="269" width="177" height="1" fill="#00007f"/>
<rect x="768" y="284" width="177" height="1" fill="#00007f"/>
<rect x="768" y="285" width="177" height="2" fill="#7bff7b"/>
<rect x="768" y="289" width="177" height="3" fill="#7bff7b"/>
<rect x="768" y="292" width="177" height="1" fill="#00007f"/>
<rect x="768" y="293" width="177" height="1" fill="#7bff7b"/>
<rect x="768" y="299" width="177" height="1" fill="#00007f"/>
<rect x="768" y="300" width="177" height="1" fill="#7bff7b"/>
<rect x="768" y="306" width="177" height="1" fill="#00007f"/>
<rect x="768" y="321" width="177" height="1" fill="#7bff7b"/>
<rect x="768" y="327" width="177" height="1" fill="#00007f"/>
<rect x="768" y="331" width="177" height="1" fill="#00007f"/>
<rect x="768" y="350" width="177" height="1" fill="#7bff7b"/>
<rect x="768" y="351" width="177" height="1" filter="url(#fgn)"/>
<rect x="768" y="352" width="177" height="1" fill="#7bff7b"/>
<rect x="768" y="363" width="177" height="1" fill="#7bff7b"/>
<rect x="768" y="369" width="177" height="1" fill="#00007f"/>
<rect x="768" y="370" width="177" height="2" fill="#7bff7b"/>
<rect x="768" y="377" width="177" height="1" fill="#00007f"/>
<rect x="768" y="378" width="177" height="1" fill="#7bff7b"/>
<rect x="768" y="387" width="177" height="1" fill="#7bff7b"/>
<rect x="768" y="388" width="177" height="1" filter="url(#fgn)"/>
<rect x="768" y="389" width="177" height="1" fill="#7bff7b"/>
<rect x="768" y="395" width="177" height="1" fill="#7bff7b"/>
<rect x="768" y="396" width="177" height="1" filter="url(#fgn)"/>
<rect x="768" y="397" width="177" height="1" fill="#7bff7b"/>
<rect x="768" y="403" width="177" height="1" fill="#00007f"/>
<rect x="768" y="406" width="177" height="1" fill="#7bff7b"/>
<rect x="768" y="413" width="177" height="1" fill="#00007f"/>
<rect x="768" y="414" width="177" height="1" filter="url(#fn)"/>
<rect x="768" y="415" width="177" height="1" fill="#00007f"/>
<rect x="768" y="434" width="177" height="2" fill="#7bff7b"/>
<rect x="768" y="438" width="177" height="1" fill="#00007f"/>
<rect x="768" y="452" width="177" height="1" fill="#7bff7b"/>
<rect x="768" y="453" width="177" height="1" filter="url(#fgn)"/>
<rect x="768" y="454" width="177" height="1" fill="#7bff7b"/>
<rect x="768" y="460" width="177" height="1" fill="#00007f"/>
<rect x="768" y="473" width="177" height="1" fill="#00007f"/>
<rect x="768" y="476" width="177" height="1" fill="#00007f"/>
<rect x="768" y="505" width="177" height="1" fill="#00007f"/>
<rect x="768" y="508" width="177" height="1" fill="#00007f"/>
<rect x="768" y="509" width="177" height="2" filter="url(#fgN)"/>
<rect x="768" y="515" width="177" height="1" fill="#00007f"/>
<rect x="768" y="518" width="177" height="1" fill="#00007f"/>
<rect x="768" y="521" width="177" height="1" fill="#00007f"/>
<rect x="768" y="524" width="177" height="1" fill="#00007f"/>
<rect x="768" y="527" width="177" height="1" fill="#00007f"/>
<rect x="768" y="544" width="177" height="2" fill="#7bff7b"/>
<rect x="768" y="552" width="177" height="1" fill="#00007f"/>
<rect x="768" y="563" width="177" height="1" fill="#00007f"/>
<rect x="768" y="564" width="177" height="1" fill="#7bff7b"/>
<rect x="768" y="565" width="177" height="2" filter="url(#fgn)"/>
<rect x="768" y="567" width="177" height="1" fill="#7bff7b"/>
<rect x="768" y="568" width="177" height="1" filter="url(#fgN)"/>
<rect x="768" y="569" width="177" height="1" fill="#00007f"/>
<rect x="768" y="570" width="177" height="4" filter="url(#frn)" opacity="0.35"/>
<rect x="768" y="574" width="177" height="1" fill="#00007f"/>
<rect x="768" y="577" width="177" height="3" filter="url(#fgN)"/>
<rect x="768" y="580" width="177" height="1" fill="#00007f"/>
<rect x="768" y="581" width="177" height="3" filter="url(#fgN)"/>
<rect x="768" y="602" width="177" height="1" filter="url(#fgN)"/>
<rect x="768" y="663" width="177" height="1" fill="#7bff7b"/>
<rect x="768" y="664" width="177" height="2" filter="url(#fgn)"/>
<rect x="768" y="666" width="177" height="1" fill="#7bff7b"/>
<rect x="768" y="684" width="177" height="1" fill="#00007f"/>
<rect x="768" y="689" width="177" height="1" fill="#00007f"/>
<rect x="768" y="690" width="177" height="4" fill="#7bff7b"/>
<rect x="768" y="694" width="177" height="1" filter="url(#fgn)"/>
<rect x="768" y="695" width="177" height="2" fill="#7bff7b"/>
<rect x="768" y="700" width="177" height="2" fill="#00007f"/>
<rect x="768" y="709" width="177" height="1" fill="#00007f"/>
<rect x="768" y="710" width="177" height="1" fill="#7bff7b"/>
<rect x="768" y="716" width="177" height="1" fill="#00007f"/>
<rect x="768" y="719" width="177" height="1" fill="#7bff7b"/>
<rect x="768" y="588" width="177" height="1" fill="#00007f"/>
<rect x="768" y="591" width="177" height="1" fill="#00007f"/>
<rect x="768" y="596" width="177" height="1" fill="#00007f"/>
<rect x="768" y="608" width="177" height="1" fill="#00007f"/>
<rect x="768" y="611" width="177" height="1" fill="#00007f"/>
<rect x="768" y="615" width="177" height="1" fill="#00007f"/>
<rect x="768" y="621" width="177" height="1" fill="#00007f"/>
<rect x="768" y="626" width="177" height="1" fill="#00007f"/>
<rect x="768" y="629" width="177" height="1" fill="#00007f"/>
<rect x="768" y="633" width="177" height="1" fill="#00007f"/>
<rect x="768" y="634" width="177" height="1" fill="#00007f"/>
<rect x="768" y="637" width="177" height="1" fill="#00007f"/>
<rect x="768" y="642" width="177" height="1" fill="#00007f"/>
<rect x="768" y="646" width="177" height="1" fill="#00007f"/>
<rect x="768" y="650" width="177" height="1" fill="#00007f"/>
<rect x="768" y="655" width="177" height="1" fill="#00007f"/>
<rect x="768" y="655" width="177" height="1" fill="#00007f"/>
<rect x="768" y="661" width="177" height="1" fill="#00007f"/>
<rect x="768" y="662" width="177" height="1" fill="#00007f"/>
<rect x="768" y="599" width="177" height="1" fill="#00007f"/>
<rect x="768" y="604" width="177" height="1" fill="#00007f"/>
</g>
<g transform="translate(0.3,0.3)">
<path d="M131.25 720v-5.56M131.25 80v5.56M175.61 720v-5.56M175.61 80v5.56M219.84 720v-5.56M219.84 80v5.56M264.06 720v-5.56M264.06 80v5.56M308.15 720v-5.56M308.15 80v5.56M131.25 720h5.56M308.15 720h-5.56M131.25 575.33h5.56M308.15 575.33h-5.56M131.25 430.66h5.56M308.15 430.66h-5.56M131.25 285.99h5.56M308.15 285.99h-5.56M131.25 141.32h5.56M308.15 141.32h-5.56" stroke="#000" stroke-width="0.8" fill="none"/>
<rect x="131.25" y="80" width="176.9" height="640" fill="none" stroke="#000" stroke-width="1.39"/>
<path d="M343.53 720v-5.56M343.53 80v5.56M387.9 720v-5.56M387.9 80v5.56M432.12 720v-5.56M432.12 80v5.56M476.35 720v-5.56M476.35 80v5.56M520.43 720v-5.56M520.43 80v5.56M343.53 720h5.56M520.43 720h-5.56M343.53 575.33h5.56M520.43 575.33h-5.56M343.53 430.66h5.56M520.43 430.66h-5.56M343.53 285.99h5.56M520.43 285.99h-5.56M343.53 141.32h5.56M520.43 141.32h-5.56" stroke="#000" stroke-width="0.8" fill="none"/>
<rect x="343.53" y="80" width="176.9" height="640" fill="none" stroke="#000" stroke-width="1.39"/>
<path d="M555.82 720v-5.56M555.82 80v5.56M600.18 720v-5.56M600.18 80v5.56M644.4 720v-5.56M644.4 80v5.56M688.63 720v-5.56M688.63 80v5.56M732.72 720v-5.56M732.72 80v5.56M555.82 720h5.56M732.72 720h-5.56M555.82 575.33h5.56M732.72 575.33h-5.56M555.82 430.66h5.56M732.72 430.66h-5.56M555.82 285.99h5.56M732.72 285.99h-5.56M555.82 141.32h5.56M732.72 141.32h-5.56" stroke="#000" stroke-width="0.8" fill="none"/>
<rect x="555.82" y="80" width="176.9" height="640" fill="none" stroke="#000" stroke-width="1.39"/>
<path d="M768.1 720v-5.56M768.1 80v5.56M812.46 720v-5.56M812.46 80v5.56M856.69 720v-5.56M856.69 80v5.56M900.91 720v-5.56M900.91 80v5.56M945 720v-5.56M945 80v5.56M768.1 720h5.56M945 720h-5.56M768.1 575.33h5.56M945 575.33h-5.56M768.1 430.66h5.56M945 430.66h-5.56M768.1 285.99h5.56M945 285.99h-5.56M768.1 141.32h5.56M945 141.32h-5.56" stroke="#000" stroke-width="0.8" fill="none"/>
<rect x="768.1" y="80" width="176.9" height="640" fill="none" stroke="#000" stroke-width="1.39"/>
</g>
<g filter="url(#gray)">
<text class="tk" x="131.85" y="736.3" text-anchor="middle">0</text>
<text class="tk" x="176.08" y="736.3" text-anchor="middle">160</text>
<text class="tk" x="220.3" y="736.3" text-anchor="middle">320</text>
<text class="tk" x="264.53" y="736.3" text-anchor="middle">480</text>
<text class="tk" x="308.75" y="736.3" text-anchor="middle">640</text>
<text class="tk" x="126.65" y="722.7" text-anchor="end">0</text>
<text class="tk" x="126.65" y="578.03" text-anchor="end">10000</text>
<text class="tk" x="126.65" y="433.36" text-anchor="end">20000</text>
<text class="tk" x="126.65" y="288.69" text-anchor="end">30000</text>
<text class="tk" x="126.65" y="144.02" text-anchor="end">40000</text>
<text class="tt" x="220.3" y="72.5" text-anchor="middle">XX, BL V8*V9</text>
<text class="tk" x="344.13" y="736.3" text-anchor="middle">0</text>
<text class="tk" x="388.36" y="736.3" text-anchor="middle">160</text>
<text class="tk" x="432.58" y="736.3" text-anchor="middle">320</text>
<text class="tk" x="476.81" y="736.3" text-anchor="middle">480</text>
<text class="tk" x="521.03" y="736.3" text-anchor="middle">640</text>
<text class="tk" x="338.93" y="722.7" text-anchor="end">0</text>
<text class="tk" x="338.93" y="578.03" text-anchor="end">10000</text>
<text class="tk" x="338.93" y="433.36" text-anchor="end">20000</text>
<text class="tk" x="338.93" y="288.69" text-anchor="end">30000</text>
<text class="tk" x="338.93" y="144.02" text-anchor="end">40000</text>
<text class="tt" x="432.58" y="72.5" text-anchor="middle">YY, BL V8*V9</text>
<text class="tk" x="556.42" y="736.3" text-anchor="middle">0</text>
<text class="tk" x="600.64" y="736.3" text-anchor="middle">160</text>
<text class="tk" x="644.87" y="736.3" text-anchor="middle">320</text>
<text class="tk" x="689.09" y="736.3" text-anchor="middle">480</text>
<text class="tk" x="733.32" y="736.3" text-anchor="middle">640</text>
<text class="tk" x="551.22" y="722.7" text-anchor="end">0</text>
<text class="tk" x="551.22" y="578.03" text-anchor="end">10000</text>
<text class="tk" x="551.22" y="433.36" text-anchor="end">20000</text>
<text class="tk" x="551.22" y="288.69" text-anchor="end">30000</text>
<text class="tk" x="551.22" y="144.02" text-anchor="end">40000</text>
<text class="tt" x="644.87" y="72.5" text-anchor="middle">XY, BL V8*V9</text>
<text class="tk" x="768.7" y="736.3" text-anchor="middle">0</text>
<text class="tk" x="812.92" y="736.3" text-anchor="middle">160</text>
<text class="tk" x="857.15" y="736.3" text-anchor="middle">320</text>
<text class="tk" x="901.37" y="736.3" text-anchor="middle">480</text>
<text class="tk" x="945.6" y="736.3" text-anchor="middle">640</text>
<text class="tk" x="763.5" y="722.7" text-anchor="end">0</text>
<text class="tk" x="763.5" y="578.03" text-anchor="end">10000</text>
<text class="tk" x="763.5" y="433.36" text-anchor="end">20000</text>
<text class="tk" x="763.5" y="288.69" text-anchor="end">30000</text>
<text class="tk" x="763.5" y="144.02" text-anchor="end">40000</text>
<text class="tt" x="857.15" y="72.5" text-anchor="middle">YX, BL V8*V9</text>
<text class="tk" x="589.3" y="26.1" text-anchor="middle" style="letter-spacing:0.62px">2015-02-15 0.0-24.0</text>
<text class="al" x="432" y="755.8">channel index</text>
<text class="al" transform="translate(76.2,400.6) rotate(-90)" text-anchor="middle" stroke="#000" stroke-width="0.12">time index</text>
</g>
<rect x="1019.4" y="160.3" width="15.1" height="479.9" fill="url(#cb)"/>
<path d="M1022.42 640.2v-5.56M1022.42 160.3v5.56M1025.44 640.2v-5.56M1025.44 160.3v5.56M1028.46 640.2v-5.56M1028.46 160.3v5.56M1031.48 640.2v-5.56M1031.48 160.3v5.56M1019.4 600.21h5.56M1034.5 600.21h-5.56M1019.4 533.56h5.56M1034.5 533.56h-5.56M1019.4 466.9h5.56M1034.5 466.9h-5.56M1019.4 400.25h5.56M1034.5 400.25h-5.56M1019.4 333.6h5.56M1034.5 333.6h-5.56M1019.4 266.94h5.56M1034.5 266.94h-5.56M1019.4 200.29h5.56M1034.5 200.29h-5.56" stroke="#000" stroke-width="0.8" fill="none"/>
<rect x="1019.4" y="160.3" width="15.1" height="479.9" fill="none" stroke="#000" stroke-width="1.39"/>
<g filter="url(#gray)">
<text class="ck" x="1013" y="602.91" text-anchor="end">−150</text>
<text class="ck" x="1013" y="536.26" text-anchor="end">−100</text>
<text class="ck" x="1013" y="469.6" text-anchor="end">−50</text>
<text class="ck" x="1013" y="402.95" text-anchor="end">0</text>
<text class="ck" x="1013" y="336.3" text-anchor="end">50</text>
<text class="ck" x="1013" y="269.64" text-anchor="end">100</text>
<text class="ck" x="1013" y="202.99" text-anchor="end">150</text>
<text class="al" transform="translate(973.6,400.3) rotate(-90)" text-anchor="middle" stroke="#000" stroke-width="0.12">phase (deg.)</text>
</g>
<rect x="1017" y="646" width="1" height="1" fill="#666"/>
<rect x="1020.9" y="646" width="1" height="1" fill="#555"/>
<rect x="1024" y="646" width="1" height="1" fill="#555"/>
<rect x="1027.1" y="646" width="1" height="1" fill="#aaa"/>
<rect x="1030.1" y="646" width="1" height="1" fill="#aaa"/>
<rect x="1033.2" y="646" width="1" height="1" fill="#bbb"/>
</svg></body></html>
